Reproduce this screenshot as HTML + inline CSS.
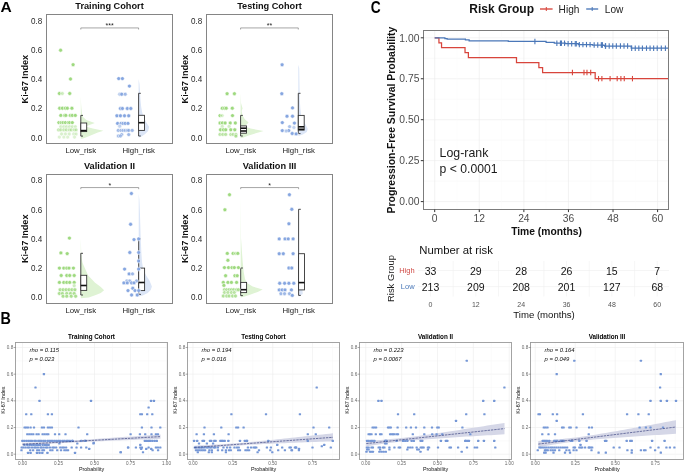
<!DOCTYPE html>
<html><head><meta charset="utf-8"><style>html,body{margin:0;padding:0;background:#fff;}svg{display:block;font-family:"Liberation Sans", sans-serif;will-change:transform;filter:blur(0.3px);}</style></head><body>
<svg width="685" height="474" viewBox="0 0 685 474">
<rect width="685" height="474" fill="#fff"/>
<text x="0" y="0" font-size="14.7" font-weight="bold" fill="#000" transform="translate(0.4 11.8) scale(1.06 1)">A</text>
<text x="0" y="0" font-size="16" font-weight="bold" fill="#000" transform="translate(0.6 323.8) scale(0.9 1)">B</text>
<text x="109.50" y="8.70" font-size="9.2" text-anchor="middle" fill="#111" font-weight="bold">Training Cohort</text>
<text x="0" y="0" font-size="9" text-anchor="end" fill="#2a2a2a" transform="translate(42.30 140.75) scale(0.9 1)">0.0</text>
<text x="0" y="0" font-size="9" text-anchor="end" fill="#2a2a2a" transform="translate(42.30 111.49) scale(0.9 1)">0.2</text>
<text x="0" y="0" font-size="9" text-anchor="end" fill="#2a2a2a" transform="translate(42.30 82.23) scale(0.9 1)">0.4</text>
<text x="0" y="0" font-size="9" text-anchor="end" fill="#2a2a2a" transform="translate(42.30 52.97) scale(0.9 1)">0.6</text>
<text x="0" y="0" font-size="9" text-anchor="end" fill="#2a2a2a" transform="translate(42.30 23.71) scale(0.9 1)">0.8</text>
<text x="28.30" y="79.13" font-size="9.1" text-anchor="middle" fill="#111" font-weight="bold" transform="rotate(-90 28.3 79.13)">Ki-67 Index</text>
<text x="80.80" y="152.50" font-size="7.8" text-anchor="middle" fill="#1a1a1a">Low_risk</text>
<text x="138.70" y="152.50" font-size="7.8" text-anchor="middle" fill="#1a1a1a">High_risk</text>
<path d="M80.80,96.00 L80.80,96.00 L81.10,104.00 L81.40,108.00 L82.00,114.00 L83.00,117.00 L86.30,120.00 L94.80,123.00 L90.80,124.50 L85.30,126.50 L92.80,128.50 L103.50,130.70 L97.80,132.50 L91.80,135.00 L85.80,137.50 L82.80,138.50 L80.80,138.80 L80.80,138.80 Z" fill="#dff3d4" stroke="none"/>
<path d="M138.60,79.00 L138.60,79.00 L139.50,84.00 L140.00,92.00 L140.50,100.00 L141.20,107.00 L142.10,112.00 L143.60,117.00 L146.10,122.00 L149.20,127.00 L148.10,131.00 L145.10,134.00 L141.60,136.50 L138.60,137.50 L138.60,137.50 Z" fill="#dce6f7" stroke="none"/>
<line x1="80.80" y1="115.40" x2="80.80" y2="136.10" stroke="#333" stroke-width="0.9"/>
<line x1="80.80" y1="115.40" x2="83.00" y2="115.40" stroke="#333" stroke-width="0.9"/>
<line x1="80.80" y1="136.10" x2="83.00" y2="136.10" stroke="#333" stroke-width="0.9"/>
<rect x="80.80" y="123.00" width="5.90" height="8.60" fill="#fff" stroke="#333" stroke-width="0.9"/>
<line x1="80.80" y1="130.60" x2="86.70" y2="130.60" stroke="#111" stroke-width="1.6"/>
<line x1="138.60" y1="93.30" x2="138.60" y2="136.00" stroke="#333" stroke-width="0.9"/>
<line x1="138.60" y1="93.30" x2="140.80" y2="93.30" stroke="#333" stroke-width="0.9"/>
<line x1="138.60" y1="136.00" x2="140.80" y2="136.00" stroke="#333" stroke-width="0.9"/>
<rect x="138.60" y="115.30" width="5.90" height="15.10" fill="#fff" stroke="#333" stroke-width="0.9"/>
<line x1="138.60" y1="122.70" x2="144.50" y2="122.70" stroke="#111" stroke-width="1.6"/>
<circle cx="60.60" cy="50.20" r="1.95" fill="#9ed97f" stroke="#fff" stroke-width="0.55"/>
<circle cx="73.10" cy="64.70" r="1.95" fill="#9ed97f" stroke="#fff" stroke-width="0.55"/>
<circle cx="70.50" cy="79.00" r="1.95" fill="#9ed97f" stroke="#fff" stroke-width="0.55"/>
<circle cx="59.40" cy="93.50" r="1.95" fill="#9ed97f" stroke="#fff" stroke-width="0.55"/>
<circle cx="62.30" cy="93.50" r="1.95" fill="#9ed97f" fill-opacity="0.5" stroke="#fff" stroke-width="0.55"/>
<circle cx="69.70" cy="93.50" r="1.95" fill="#9ed97f" stroke="#fff" stroke-width="0.55"/>
<circle cx="59.70" cy="108.20" r="1.95" fill="#9ed97f" stroke="#fff" stroke-width="0.55"/>
<circle cx="62.40" cy="108.20" r="1.95" fill="#9ed97f" stroke="#fff" stroke-width="0.55"/>
<circle cx="65.40" cy="108.20" r="1.95" fill="#9ed97f" stroke="#fff" stroke-width="0.55"/>
<circle cx="67.30" cy="108.20" r="1.95" fill="#9ed97f" stroke="#fff" stroke-width="0.55"/>
<circle cx="71.90" cy="108.20" r="1.95" fill="#9ed97f" stroke="#fff" stroke-width="0.55"/>
<circle cx="60.80" cy="115.40" r="1.95" fill="#9ed97f" stroke="#fff" stroke-width="0.55"/>
<circle cx="64.60" cy="115.40" r="1.95" fill="#9ed97f" stroke="#fff" stroke-width="0.55"/>
<circle cx="65.80" cy="115.40" r="1.95" fill="#9ed97f" stroke="#fff" stroke-width="0.55"/>
<circle cx="70.30" cy="115.40" r="1.95" fill="#9ed97f" stroke="#fff" stroke-width="0.55"/>
<circle cx="72.30" cy="115.40" r="1.95" fill="#9ed97f" stroke="#fff" stroke-width="0.55"/>
<circle cx="75.30" cy="115.40" r="1.95" fill="#9ed97f" stroke="#fff" stroke-width="0.55"/>
<circle cx="58.90" cy="122.60" r="1.95" fill="#9ed97f" stroke="#fff" stroke-width="0.55"/>
<circle cx="61.20" cy="122.60" r="1.95" fill="#9ed97f" stroke="#fff" stroke-width="0.55"/>
<circle cx="63.10" cy="122.60" r="1.95" fill="#9ed97f" stroke="#fff" stroke-width="0.55"/>
<circle cx="65.40" cy="122.60" r="1.95" fill="#9ed97f" stroke="#fff" stroke-width="0.55"/>
<circle cx="68.10" cy="122.60" r="1.95" fill="#9ed97f" stroke="#fff" stroke-width="0.55"/>
<circle cx="69.60" cy="122.60" r="1.95" fill="#9ed97f" stroke="#fff" stroke-width="0.55"/>
<circle cx="72.30" cy="122.60" r="1.95" fill="#9ed97f" stroke="#fff" stroke-width="0.55"/>
<circle cx="60.84" cy="126.80" r="1.95" fill="#9ed97f" fill-opacity="0.45" stroke="#fff" stroke-width="0.55"/>
<circle cx="63.89" cy="126.80" r="1.95" fill="#9ed97f" fill-opacity="0.45" stroke="#fff" stroke-width="0.55"/>
<circle cx="66.55" cy="126.80" r="1.95" fill="#9ed97f" fill-opacity="0.45" stroke="#fff" stroke-width="0.55"/>
<circle cx="69.59" cy="126.80" r="1.95" fill="#9ed97f" fill-opacity="0.45" stroke="#fff" stroke-width="0.55"/>
<circle cx="72.25" cy="126.80" r="1.95" fill="#9ed97f" fill-opacity="0.45" stroke="#fff" stroke-width="0.55"/>
<circle cx="75.29" cy="126.80" r="1.95" fill="#9ed97f" fill-opacity="0.45" stroke="#fff" stroke-width="0.55"/>
<circle cx="58.56" cy="129.90" r="1.95" fill="#9ed97f" fill-opacity="0.6" stroke="#fff" stroke-width="0.55"/>
<circle cx="60.84" cy="129.90" r="1.95" fill="#9ed97f" fill-opacity="0.6" stroke="#fff" stroke-width="0.55"/>
<circle cx="63.89" cy="129.90" r="1.95" fill="#9ed97f" fill-opacity="0.6" stroke="#fff" stroke-width="0.55"/>
<circle cx="66.17" cy="129.90" r="1.95" fill="#9ed97f" fill-opacity="0.6" stroke="#fff" stroke-width="0.55"/>
<circle cx="69.21" cy="129.90" r="1.95" fill="#9ed97f" fill-opacity="0.6" stroke="#fff" stroke-width="0.55"/>
<circle cx="71.11" cy="129.90" r="1.95" fill="#9ed97f" fill-opacity="0.6" stroke="#fff" stroke-width="0.55"/>
<circle cx="74.15" cy="129.90" r="1.95" fill="#9ed97f" fill-opacity="0.6" stroke="#fff" stroke-width="0.55"/>
<circle cx="76.05" cy="129.90" r="1.95" fill="#9ed97f" fill-opacity="0.6" stroke="#fff" stroke-width="0.55"/>
<circle cx="61.60" cy="134.00" r="1.95" fill="#9ed97f" fill-opacity="0.4" stroke="#fff" stroke-width="0.55"/>
<circle cx="65.41" cy="134.00" r="1.95" fill="#9ed97f" fill-opacity="0.4" stroke="#fff" stroke-width="0.55"/>
<circle cx="69.21" cy="134.00" r="1.95" fill="#9ed97f" fill-opacity="0.4" stroke="#fff" stroke-width="0.55"/>
<circle cx="73.77" cy="134.00" r="1.95" fill="#9ed97f" fill-opacity="0.4" stroke="#fff" stroke-width="0.55"/>
<circle cx="76.05" cy="134.00" r="1.95" fill="#9ed97f" fill-opacity="0.4" stroke="#fff" stroke-width="0.55"/>
<circle cx="59.32" cy="137.10" r="1.95" fill="#9ed97f" fill-opacity="0.35" stroke="#fff" stroke-width="0.55"/>
<circle cx="63.89" cy="137.10" r="1.95" fill="#9ed97f" fill-opacity="0.35" stroke="#fff" stroke-width="0.55"/>
<circle cx="67.69" cy="137.10" r="1.95" fill="#9ed97f" fill-opacity="0.35" stroke="#fff" stroke-width="0.55"/>
<circle cx="74.53" cy="137.10" r="1.95" fill="#9ed97f" fill-opacity="0.35" stroke="#fff" stroke-width="0.55"/>
<circle cx="118.70" cy="78.60" r="1.95" fill="#86a6e0" stroke="#fff" stroke-width="0.55"/>
<circle cx="122.40" cy="78.60" r="1.95" fill="#86a6e0" stroke="#fff" stroke-width="0.55"/>
<circle cx="129.40" cy="86.10" r="1.95" fill="#86a6e0" stroke="#fff" stroke-width="0.55"/>
<circle cx="119.70" cy="94.20" r="1.95" fill="#86a6e0" fill-opacity="0.6" stroke="#fff" stroke-width="0.55"/>
<circle cx="121.70" cy="94.20" r="1.95" fill="#86a6e0" stroke="#fff" stroke-width="0.55"/>
<circle cx="125.20" cy="94.20" r="1.95" fill="#86a6e0" fill-opacity="0.8" stroke="#fff" stroke-width="0.55"/>
<circle cx="120.40" cy="108.50" r="1.95" fill="#86a6e0" stroke="#fff" stroke-width="0.55"/>
<circle cx="122.40" cy="108.50" r="1.95" fill="#86a6e0" stroke="#fff" stroke-width="0.55"/>
<circle cx="127.30" cy="108.50" r="1.95" fill="#86a6e0" stroke="#fff" stroke-width="0.55"/>
<circle cx="130.80" cy="108.50" r="1.95" fill="#86a6e0" stroke="#fff" stroke-width="0.55"/>
<circle cx="116.90" cy="115.80" r="1.95" fill="#86a6e0" stroke="#fff" stroke-width="0.55"/>
<circle cx="120.40" cy="115.80" r="1.95" fill="#86a6e0" stroke="#fff" stroke-width="0.55"/>
<circle cx="124.50" cy="115.80" r="1.95" fill="#86a6e0" stroke="#fff" stroke-width="0.55"/>
<circle cx="128.70" cy="115.80" r="1.95" fill="#86a6e0" stroke="#fff" stroke-width="0.55"/>
<circle cx="117.60" cy="123.40" r="1.95" fill="#86a6e0" stroke="#fff" stroke-width="0.55"/>
<circle cx="121.10" cy="123.40" r="1.95" fill="#86a6e0" stroke="#fff" stroke-width="0.55"/>
<circle cx="123.10" cy="123.40" r="1.95" fill="#86a6e0" stroke="#fff" stroke-width="0.55"/>
<circle cx="125.20" cy="123.40" r="1.95" fill="#86a6e0" stroke="#fff" stroke-width="0.55"/>
<circle cx="128.00" cy="123.40" r="1.95" fill="#86a6e0" stroke="#fff" stroke-width="0.55"/>
<circle cx="119.70" cy="126.20" r="1.95" fill="#86a6e0" fill-opacity="0.5" stroke="#fff" stroke-width="0.55"/>
<circle cx="118.30" cy="130.40" r="1.95" fill="#86a6e0" fill-opacity="0.8" stroke="#fff" stroke-width="0.55"/>
<circle cx="121.00" cy="130.40" r="1.95" fill="#86a6e0" fill-opacity="0.8" stroke="#fff" stroke-width="0.55"/>
<circle cx="123.10" cy="130.40" r="1.95" fill="#86a6e0" fill-opacity="0.8" stroke="#fff" stroke-width="0.55"/>
<circle cx="125.20" cy="130.40" r="1.95" fill="#86a6e0" fill-opacity="0.8" stroke="#fff" stroke-width="0.55"/>
<circle cx="127.30" cy="130.40" r="1.95" fill="#86a6e0" fill-opacity="0.8" stroke="#fff" stroke-width="0.55"/>
<circle cx="128.70" cy="130.40" r="1.95" fill="#86a6e0" fill-opacity="0.8" stroke="#fff" stroke-width="0.55"/>
<circle cx="132.20" cy="130.40" r="1.95" fill="#86a6e0" fill-opacity="0.8" stroke="#fff" stroke-width="0.55"/>
<circle cx="121.70" cy="134.60" r="1.95" fill="#86a6e0" fill-opacity="0.8" stroke="#fff" stroke-width="0.55"/>
<circle cx="128.70" cy="134.60" r="1.95" fill="#86a6e0" fill-opacity="0.8" stroke="#fff" stroke-width="0.55"/>
<circle cx="118.30" cy="136.00" r="1.95" fill="#86a6e0" fill-opacity="0.7" stroke="#fff" stroke-width="0.55"/>
<circle cx="120.40" cy="136.00" r="1.95" fill="#86a6e0" fill-opacity="0.7" stroke="#fff" stroke-width="0.55"/>
<path d="M80.80,29.53 L80.80,27.93 L138.60,27.93 L138.60,29.53" fill="none" stroke="#6a6a6a" stroke-width="0.6"/>
<text x="109.70" y="28.43" font-size="7" text-anchor="middle" fill="#222">***</text>
<rect x="46.50" y="14.50" width="126.00" height="129.00" fill="none" stroke="#858585" stroke-width="1"/>
<text x="269.50" y="8.70" font-size="9.2" text-anchor="middle" fill="#111" font-weight="bold">Testing Cohort</text>
<text x="0" y="0" font-size="9" text-anchor="end" fill="#2a2a2a" transform="translate(202.30 140.75) scale(0.9 1)">0.0</text>
<text x="0" y="0" font-size="9" text-anchor="end" fill="#2a2a2a" transform="translate(202.30 111.49) scale(0.9 1)">0.2</text>
<text x="0" y="0" font-size="9" text-anchor="end" fill="#2a2a2a" transform="translate(202.30 82.23) scale(0.9 1)">0.4</text>
<text x="0" y="0" font-size="9" text-anchor="end" fill="#2a2a2a" transform="translate(202.30 52.97) scale(0.9 1)">0.6</text>
<text x="0" y="0" font-size="9" text-anchor="end" fill="#2a2a2a" transform="translate(202.30 23.71) scale(0.9 1)">0.8</text>
<text x="188.30" y="79.13" font-size="9.1" text-anchor="middle" fill="#111" font-weight="bold" transform="rotate(-90 188.3 79.13)">Ki-67 Index</text>
<text x="240.80" y="152.50" font-size="7.8" text-anchor="middle" fill="#1a1a1a">Low_risk</text>
<text x="298.70" y="152.50" font-size="7.8" text-anchor="middle" fill="#1a1a1a">High_risk</text>
<path d="M240.60,93.00 L240.60,93.00 L241.00,103.00 L242.00,106.50 L242.60,108.50 L241.60,111.00 L242.40,115.00 L244.60,119.00 L248.60,122.50 L246.60,124.50 L244.60,126.50 L250.60,128.50 L263.60,131.00 L256.60,133.00 L248.60,135.50 L243.60,137.50 L240.60,138.20 L240.60,138.20 Z" fill="#dff3d4" stroke="none"/>
<path d="M298.30,64.80 L298.30,64.80 L299.20,68.00 L299.50,85.00 L299.80,100.00 L300.30,108.00 L301.20,116.00 L303.30,121.00 L305.80,125.00 L307.80,129.00 L306.80,132.00 L302.80,134.50 L298.30,136.00 L298.30,136.00 Z" fill="#dce6f7" stroke="none"/>
<line x1="240.60" y1="115.40" x2="240.60" y2="136.00" stroke="#333" stroke-width="0.9"/>
<line x1="240.60" y1="115.40" x2="242.80" y2="115.40" stroke="#333" stroke-width="0.9"/>
<line x1="240.60" y1="136.00" x2="242.80" y2="136.00" stroke="#333" stroke-width="0.9"/>
<rect x="240.60" y="125.90" width="5.90" height="7.30" fill="#fff" stroke="#333" stroke-width="0.9"/>
<line x1="240.60" y1="128.20" x2="246.50" y2="128.20" stroke="#111" stroke-width="1.6"/>
<line x1="240.60" y1="131.00" x2="246.50" y2="131.00" stroke="#111" stroke-width="1.6"/>
<line x1="298.30" y1="93.30" x2="298.30" y2="133.60" stroke="#333" stroke-width="0.9"/>
<line x1="298.30" y1="93.30" x2="300.50" y2="93.30" stroke="#333" stroke-width="0.9"/>
<line x1="298.30" y1="133.60" x2="300.50" y2="133.60" stroke="#333" stroke-width="0.9"/>
<rect x="298.30" y="115.40" width="5.90" height="14.70" fill="#fff" stroke="#333" stroke-width="0.9"/>
<line x1="298.30" y1="126.80" x2="304.20" y2="126.80" stroke="#111" stroke-width="1.6"/>
<line x1="298.30" y1="129.30" x2="304.20" y2="129.30" stroke="#111" stroke-width="1.6"/>
<circle cx="227.10" cy="93.70" r="1.95" fill="#9ed97f" stroke="#fff" stroke-width="0.55"/>
<circle cx="234.40" cy="93.70" r="1.95" fill="#9ed97f" stroke="#fff" stroke-width="0.55"/>
<circle cx="222.30" cy="108.20" r="1.95" fill="#9ed97f" stroke="#fff" stroke-width="0.55"/>
<circle cx="224.50" cy="108.20" r="1.95" fill="#9ed97f" stroke="#fff" stroke-width="0.55"/>
<circle cx="226.20" cy="108.20" r="1.95" fill="#9ed97f" stroke="#fff" stroke-width="0.55"/>
<circle cx="232.30" cy="108.20" r="1.95" fill="#9ed97f" stroke="#fff" stroke-width="0.55"/>
<circle cx="220.00" cy="115.60" r="1.95" fill="#9ed97f" stroke="#fff" stroke-width="0.55"/>
<circle cx="232.50" cy="115.60" r="1.95" fill="#9ed97f" stroke="#fff" stroke-width="0.55"/>
<circle cx="222.20" cy="115.60" r="1.95" fill="#9ed97f" fill-opacity="0.4" stroke="#fff" stroke-width="0.55"/>
<circle cx="220.00" cy="123.00" r="1.95" fill="#9ed97f" stroke="#fff" stroke-width="0.55"/>
<circle cx="222.30" cy="123.00" r="1.95" fill="#9ed97f" stroke="#fff" stroke-width="0.55"/>
<circle cx="225.10" cy="123.00" r="1.95" fill="#9ed97f" stroke="#fff" stroke-width="0.55"/>
<circle cx="230.20" cy="123.00" r="1.95" fill="#9ed97f" stroke="#fff" stroke-width="0.55"/>
<circle cx="235.30" cy="123.00" r="1.95" fill="#9ed97f" stroke="#fff" stroke-width="0.55"/>
<circle cx="222.25" cy="126.40" r="1.95" fill="#9ed97f" fill-opacity="0.45" stroke="#fff" stroke-width="0.55"/>
<circle cx="229.08" cy="126.40" r="1.95" fill="#9ed97f" fill-opacity="0.45" stroke="#fff" stroke-width="0.55"/>
<circle cx="220.50" cy="129.80" r="1.95" fill="#9ed97f" stroke="#fff" stroke-width="0.55"/>
<circle cx="223.40" cy="129.80" r="1.95" fill="#9ed97f" stroke="#fff" stroke-width="0.55"/>
<circle cx="225.70" cy="129.80" r="1.95" fill="#9ed97f" stroke="#fff" stroke-width="0.55"/>
<circle cx="230.80" cy="129.80" r="1.95" fill="#9ed97f" stroke="#fff" stroke-width="0.55"/>
<circle cx="234.80" cy="129.80" r="1.95" fill="#9ed97f" stroke="#fff" stroke-width="0.55"/>
<circle cx="219.97" cy="134.40" r="1.95" fill="#9ed97f" fill-opacity="0.7" stroke="#fff" stroke-width="0.55"/>
<circle cx="222.82" cy="134.40" r="1.95" fill="#9ed97f" fill-opacity="0.7" stroke="#fff" stroke-width="0.55"/>
<circle cx="225.67" cy="134.40" r="1.95" fill="#9ed97f" fill-opacity="0.7" stroke="#fff" stroke-width="0.55"/>
<circle cx="230.79" cy="134.40" r="1.95" fill="#9ed97f" fill-opacity="0.7" stroke="#fff" stroke-width="0.55"/>
<circle cx="233.07" cy="134.40" r="1.95" fill="#9ed97f" fill-opacity="0.7" stroke="#fff" stroke-width="0.55"/>
<circle cx="235.92" cy="134.40" r="1.95" fill="#9ed97f" fill-opacity="0.7" stroke="#fff" stroke-width="0.55"/>
<circle cx="235.90" cy="136.10" r="1.95" fill="#9ed97f" fill-opacity="0.8" stroke="#fff" stroke-width="0.55"/>
<circle cx="282.10" cy="64.80" r="1.95" fill="#86a6e0" stroke="#fff" stroke-width="0.55"/>
<circle cx="281.80" cy="93.70" r="1.95" fill="#86a6e0" stroke="#fff" stroke-width="0.55"/>
<circle cx="292.50" cy="107.90" r="1.95" fill="#86a6e0" stroke="#fff" stroke-width="0.55"/>
<circle cx="287.00" cy="116.20" r="1.95" fill="#86a6e0" stroke="#fff" stroke-width="0.55"/>
<circle cx="292.50" cy="116.20" r="1.95" fill="#86a6e0" stroke="#fff" stroke-width="0.55"/>
<circle cx="282.30" cy="122.60" r="1.95" fill="#86a6e0" stroke="#fff" stroke-width="0.55"/>
<circle cx="294.40" cy="123.10" r="1.95" fill="#86a6e0" stroke="#fff" stroke-width="0.55"/>
<circle cx="289.60" cy="126.60" r="1.95" fill="#86a6e0" fill-opacity="0.7" stroke="#fff" stroke-width="0.55"/>
<circle cx="293.90" cy="127.50" r="1.95" fill="#86a6e0" fill-opacity="0.5" stroke="#fff" stroke-width="0.55"/>
<circle cx="282.30" cy="130.60" r="1.95" fill="#86a6e0" stroke="#fff" stroke-width="0.55"/>
<circle cx="288.70" cy="130.60" r="1.95" fill="#86a6e0" stroke="#fff" stroke-width="0.55"/>
<circle cx="286.10" cy="131.00" r="1.95" fill="#86a6e0" fill-opacity="0.6" stroke="#fff" stroke-width="0.55"/>
<circle cx="292.20" cy="133.50" r="1.95" fill="#86a6e0" stroke="#fff" stroke-width="0.55"/>
<circle cx="296.10" cy="133.90" r="1.95" fill="#86a6e0" stroke="#fff" stroke-width="0.55"/>
<path d="M240.60,29.53 L240.60,27.93 L298.30,27.93 L298.30,29.53" fill="none" stroke="#6a6a6a" stroke-width="0.6"/>
<text x="269.45" y="28.43" font-size="7" text-anchor="middle" fill="#222">**</text>
<rect x="206.50" y="14.50" width="126.00" height="129.00" fill="none" stroke="#858585" stroke-width="1"/>
<text x="109.50" y="168.70" font-size="9.2" text-anchor="middle" fill="#111" font-weight="bold">Validation II</text>
<text x="0" y="0" font-size="9" text-anchor="end" fill="#2a2a2a" transform="translate(42.30 300.40) scale(0.9 1)">0.0</text>
<text x="0" y="0" font-size="9" text-anchor="end" fill="#2a2a2a" transform="translate(42.30 271.14) scale(0.9 1)">0.2</text>
<text x="0" y="0" font-size="9" text-anchor="end" fill="#2a2a2a" transform="translate(42.30 241.88) scale(0.9 1)">0.4</text>
<text x="0" y="0" font-size="9" text-anchor="end" fill="#2a2a2a" transform="translate(42.30 212.62) scale(0.9 1)">0.6</text>
<text x="0" y="0" font-size="9" text-anchor="end" fill="#2a2a2a" transform="translate(42.30 183.36) scale(0.9 1)">0.8</text>
<text x="28.30" y="238.78" font-size="9.1" text-anchor="middle" fill="#111" font-weight="bold" transform="rotate(-90 28.3 238.77999999999997)">Ki-67 Index</text>
<text x="80.80" y="312.50" font-size="7.8" text-anchor="middle" fill="#1a1a1a">Low_risk</text>
<text x="138.70" y="312.50" font-size="7.8" text-anchor="middle" fill="#1a1a1a">High_risk</text>
<path d="M80.80,238.00 L80.80,238.00 L81.20,252.00 L81.80,259.00 L82.60,263.00 L84.80,268.00 L88.20,275.50 L94.80,282.40 L100.80,287.00 L104.10,290.30 L100.80,293.00 L95.80,295.00 L88.80,297.60 L80.80,298.30 L80.80,298.30 Z" fill="#dff3d4" stroke="none"/>
<path d="M138.70,193.50 L138.70,193.50 L139.40,200.00 L139.90,212.00 L140.30,225.00 L140.70,239.00 L141.40,253.00 L142.00,262.00 L143.30,270.00 L146.50,276.00 L149.70,281.00 L151.90,286.50 L150.70,290.00 L147.70,293.00 L142.70,295.50 L138.70,296.50 L138.70,296.50 Z" fill="#dce6f7" stroke="none"/>
<line x1="80.80" y1="253.30" x2="80.80" y2="295.00" stroke="#333" stroke-width="0.9"/>
<line x1="80.80" y1="253.30" x2="83.00" y2="253.30" stroke="#333" stroke-width="0.9"/>
<line x1="80.80" y1="295.00" x2="83.00" y2="295.00" stroke="#333" stroke-width="0.9"/>
<rect x="80.80" y="275.30" width="5.90" height="15.10" fill="#fff" stroke="#333" stroke-width="0.9"/>
<line x1="80.80" y1="285.50" x2="86.70" y2="285.50" stroke="#111" stroke-width="1.6"/>
<line x1="138.70" y1="238.90" x2="138.70" y2="294.40" stroke="#333" stroke-width="0.9"/>
<line x1="138.70" y1="238.90" x2="140.90" y2="238.90" stroke="#333" stroke-width="0.9"/>
<line x1="138.70" y1="294.40" x2="140.90" y2="294.40" stroke="#333" stroke-width="0.9"/>
<rect x="138.70" y="268.10" width="5.90" height="22.50" fill="#fff" stroke="#333" stroke-width="0.9"/>
<line x1="138.70" y1="282.50" x2="144.60" y2="282.50" stroke="#111" stroke-width="1.6"/>
<circle cx="69.40" cy="238.10" r="1.95" fill="#9ed97f" stroke="#fff" stroke-width="0.55"/>
<circle cx="60.90" cy="252.90" r="1.95" fill="#9ed97f" stroke="#fff" stroke-width="0.55"/>
<circle cx="67.20" cy="253.60" r="1.95" fill="#9ed97f" stroke="#fff" stroke-width="0.55"/>
<circle cx="59.40" cy="268.10" r="1.95" fill="#9ed97f" stroke="#fff" stroke-width="0.55"/>
<circle cx="63.80" cy="268.10" r="1.95" fill="#9ed97f" stroke="#fff" stroke-width="0.55"/>
<circle cx="66.80" cy="268.10" r="1.95" fill="#9ed97f" stroke="#fff" stroke-width="0.55"/>
<circle cx="69.00" cy="268.10" r="1.95" fill="#9ed97f" stroke="#fff" stroke-width="0.55"/>
<circle cx="73.40" cy="268.10" r="1.95" fill="#9ed97f" stroke="#fff" stroke-width="0.55"/>
<circle cx="61.20" cy="275.50" r="1.95" fill="#9ed97f" stroke="#fff" stroke-width="0.55"/>
<circle cx="66.80" cy="275.50" r="1.95" fill="#9ed97f" stroke="#fff" stroke-width="0.55"/>
<circle cx="69.70" cy="275.50" r="1.95" fill="#9ed97f" stroke="#fff" stroke-width="0.55"/>
<circle cx="74.20" cy="275.50" r="1.95" fill="#9ed97f" stroke="#fff" stroke-width="0.55"/>
<circle cx="59.40" cy="282.40" r="1.95" fill="#9ed97f" stroke="#fff" stroke-width="0.55"/>
<circle cx="63.80" cy="282.40" r="1.95" fill="#9ed97f" stroke="#fff" stroke-width="0.55"/>
<circle cx="66.80" cy="282.40" r="1.95" fill="#9ed97f" stroke="#fff" stroke-width="0.55"/>
<circle cx="69.70" cy="282.40" r="1.95" fill="#9ed97f" stroke="#fff" stroke-width="0.55"/>
<circle cx="74.20" cy="282.40" r="1.95" fill="#9ed97f" stroke="#fff" stroke-width="0.55"/>
<circle cx="74.20" cy="285.80" r="1.95" fill="#9ed97f" fill-opacity="0.5" stroke="#fff" stroke-width="0.55"/>
<circle cx="60.12" cy="289.80" r="1.95" fill="#9ed97f" fill-opacity="0.85" stroke="#fff" stroke-width="0.55"/>
<circle cx="63.08" cy="289.80" r="1.95" fill="#9ed97f" fill-opacity="0.85" stroke="#fff" stroke-width="0.55"/>
<circle cx="66.03" cy="289.80" r="1.95" fill="#9ed97f" fill-opacity="0.85" stroke="#fff" stroke-width="0.55"/>
<circle cx="68.99" cy="289.80" r="1.95" fill="#9ed97f" fill-opacity="0.85" stroke="#fff" stroke-width="0.55"/>
<circle cx="71.94" cy="289.80" r="1.95" fill="#9ed97f" fill-opacity="0.85" stroke="#fff" stroke-width="0.55"/>
<circle cx="74.90" cy="289.80" r="1.95" fill="#9ed97f" fill-opacity="0.85" stroke="#fff" stroke-width="0.55"/>
<circle cx="59.39" cy="293.50" r="1.95" fill="#9ed97f" fill-opacity="0.85" stroke="#fff" stroke-width="0.55"/>
<circle cx="62.34" cy="293.50" r="1.95" fill="#9ed97f" fill-opacity="0.85" stroke="#fff" stroke-width="0.55"/>
<circle cx="66.77" cy="293.50" r="1.95" fill="#9ed97f" fill-opacity="0.85" stroke="#fff" stroke-width="0.55"/>
<circle cx="70.46" cy="293.50" r="1.95" fill="#9ed97f" fill-opacity="0.85" stroke="#fff" stroke-width="0.55"/>
<circle cx="74.16" cy="293.50" r="1.95" fill="#9ed97f" fill-opacity="0.85" stroke="#fff" stroke-width="0.55"/>
<circle cx="63.08" cy="296.20" r="1.95" fill="#9ed97f" fill-opacity="0.85" stroke="#fff" stroke-width="0.55"/>
<circle cx="66.77" cy="296.20" r="1.95" fill="#9ed97f" fill-opacity="0.85" stroke="#fff" stroke-width="0.55"/>
<circle cx="71.20" cy="296.20" r="1.95" fill="#9ed97f" fill-opacity="0.85" stroke="#fff" stroke-width="0.55"/>
<circle cx="75.63" cy="296.20" r="1.95" fill="#9ed97f" fill-opacity="0.85" stroke="#fff" stroke-width="0.55"/>
<circle cx="131.40" cy="193.50" r="1.95" fill="#86a6e0" stroke="#fff" stroke-width="0.55"/>
<circle cx="130.60" cy="224.30" r="1.95" fill="#86a6e0" stroke="#fff" stroke-width="0.55"/>
<circle cx="134.00" cy="239.60" r="1.95" fill="#86a6e0" stroke="#fff" stroke-width="0.55"/>
<circle cx="138.70" cy="238.90" r="1.95" fill="#86a6e0" stroke="#fff" stroke-width="0.55"/>
<circle cx="129.80" cy="252.50" r="1.95" fill="#86a6e0" stroke="#fff" stroke-width="0.55"/>
<circle cx="138.70" cy="252.50" r="1.95" fill="#86a6e0" stroke="#fff" stroke-width="0.55"/>
<circle cx="138.70" cy="261.00" r="1.95" fill="#86a6e0" stroke="#fff" stroke-width="0.55"/>
<circle cx="124.60" cy="269.10" r="1.95" fill="#86a6e0" stroke="#fff" stroke-width="0.55"/>
<circle cx="138.70" cy="269.10" r="1.95" fill="#86a6e0" stroke="#fff" stroke-width="0.55"/>
<circle cx="129.10" cy="273.90" r="1.95" fill="#86a6e0" stroke="#fff" stroke-width="0.55"/>
<circle cx="132.50" cy="273.90" r="1.95" fill="#86a6e0" fill-opacity="0.8" stroke="#fff" stroke-width="0.55"/>
<circle cx="126.90" cy="281.00" r="1.95" fill="#86a6e0" fill-opacity="0.8" stroke="#fff" stroke-width="0.55"/>
<circle cx="129.80" cy="281.00" r="1.95" fill="#86a6e0" fill-opacity="0.8" stroke="#fff" stroke-width="0.55"/>
<circle cx="136.50" cy="281.00" r="1.95" fill="#86a6e0" fill-opacity="0.8" stroke="#fff" stroke-width="0.55"/>
<circle cx="123.90" cy="282.90" r="1.95" fill="#86a6e0" stroke="#fff" stroke-width="0.55"/>
<circle cx="127.20" cy="282.90" r="1.95" fill="#86a6e0" stroke="#fff" stroke-width="0.55"/>
<circle cx="131.60" cy="282.90" r="1.95" fill="#86a6e0" stroke="#fff" stroke-width="0.55"/>
<circle cx="134.00" cy="282.90" r="1.95" fill="#86a6e0" stroke="#fff" stroke-width="0.55"/>
<circle cx="132.80" cy="288.30" r="1.95" fill="#86a6e0" stroke="#fff" stroke-width="0.55"/>
<circle cx="128.00" cy="290.60" r="1.95" fill="#86a6e0" stroke="#fff" stroke-width="0.55"/>
<circle cx="135.00" cy="290.60" r="1.95" fill="#86a6e0" stroke="#fff" stroke-width="0.55"/>
<circle cx="138.70" cy="290.60" r="1.95" fill="#86a6e0" stroke="#fff" stroke-width="0.55"/>
<circle cx="131.60" cy="295.00" r="1.95" fill="#86a6e0" stroke="#fff" stroke-width="0.55"/>
<circle cx="137.20" cy="295.00" r="1.95" fill="#86a6e0" stroke="#fff" stroke-width="0.55"/>
<path d="M80.80,189.17 L80.80,187.57 L138.70,187.57 L138.70,189.17" fill="none" stroke="#6a6a6a" stroke-width="0.6"/>
<text x="109.75" y="188.07" font-size="7" text-anchor="middle" fill="#222">*</text>
<rect x="46.50" y="174.50" width="126.00" height="129.00" fill="none" stroke="#858585" stroke-width="1"/>
<text x="269.50" y="168.70" font-size="9.2" text-anchor="middle" fill="#111" font-weight="bold">Validation III</text>
<text x="0" y="0" font-size="9" text-anchor="end" fill="#2a2a2a" transform="translate(202.30 300.40) scale(0.9 1)">0.0</text>
<text x="0" y="0" font-size="9" text-anchor="end" fill="#2a2a2a" transform="translate(202.30 271.14) scale(0.9 1)">0.2</text>
<text x="0" y="0" font-size="9" text-anchor="end" fill="#2a2a2a" transform="translate(202.30 241.88) scale(0.9 1)">0.4</text>
<text x="0" y="0" font-size="9" text-anchor="end" fill="#2a2a2a" transform="translate(202.30 212.62) scale(0.9 1)">0.6</text>
<text x="0" y="0" font-size="9" text-anchor="end" fill="#2a2a2a" transform="translate(202.30 183.36) scale(0.9 1)">0.8</text>
<text x="188.30" y="238.78" font-size="9.1" text-anchor="middle" fill="#111" font-weight="bold" transform="rotate(-90 188.3 238.77999999999997)">Ki-67 Index</text>
<text x="240.80" y="312.50" font-size="7.8" text-anchor="middle" fill="#1a1a1a">Low_risk</text>
<text x="298.70" y="312.50" font-size="7.8" text-anchor="middle" fill="#1a1a1a">High_risk</text>
<path d="M240.70,194.70 L240.70,194.70 L241.00,238.00 L241.80,250.00 L242.70,262.00 L243.70,272.00 L245.00,279.00 L247.00,283.00 L252.70,286.50 L262.70,289.50 L257.70,292.00 L250.70,294.50 L244.70,296.50 L240.70,297.50 L240.70,297.50 Z" fill="#dff3d4" stroke="none"/>
<path d="M298.60,194.70 L298.60,194.70 L298.90,240.00 L299.40,268.00 L300.60,283.00 L302.40,290.00 L302.80,294.00 L298.60,296.50 L298.60,296.50 Z" fill="#dce6f7" stroke="none"/>
<line x1="240.70" y1="268.00" x2="240.70" y2="295.60" stroke="#333" stroke-width="0.9"/>
<line x1="240.70" y1="268.00" x2="242.90" y2="268.00" stroke="#333" stroke-width="0.9"/>
<line x1="240.70" y1="295.60" x2="242.90" y2="295.60" stroke="#333" stroke-width="0.9"/>
<rect x="240.70" y="282.40" width="5.90" height="10.20" fill="#fff" stroke="#333" stroke-width="0.9"/>
<line x1="240.70" y1="289.70" x2="246.60" y2="289.70" stroke="#111" stroke-width="1.6"/>
<line x1="298.60" y1="209.30" x2="298.60" y2="295.40" stroke="#333" stroke-width="0.9"/>
<line x1="298.60" y1="209.30" x2="300.80" y2="209.30" stroke="#333" stroke-width="0.9"/>
<line x1="298.60" y1="295.40" x2="300.80" y2="295.40" stroke="#333" stroke-width="0.9"/>
<rect x="298.60" y="253.70" width="5.90" height="36.20" fill="#fff" stroke="#333" stroke-width="0.9"/>
<line x1="298.60" y1="282.60" x2="304.50" y2="282.60" stroke="#111" stroke-width="1.6"/>
<circle cx="229.50" cy="194.70" r="1.95" fill="#9ed97f" stroke="#fff" stroke-width="0.55"/>
<circle cx="224.90" cy="209.80" r="1.95" fill="#9ed97f" stroke="#fff" stroke-width="0.55"/>
<circle cx="227.30" cy="253.40" r="1.95" fill="#9ed97f" stroke="#fff" stroke-width="0.55"/>
<circle cx="233.10" cy="253.40" r="1.95" fill="#9ed97f" stroke="#fff" stroke-width="0.55"/>
<circle cx="235.50" cy="253.40" r="1.95" fill="#9ed97f" fill-opacity="0.6" stroke="#fff" stroke-width="0.55"/>
<circle cx="237.80" cy="253.40" r="1.95" fill="#9ed97f" stroke="#fff" stroke-width="0.55"/>
<circle cx="227.90" cy="260.30" r="1.95" fill="#9ed97f" stroke="#fff" stroke-width="0.55"/>
<circle cx="224.40" cy="267.60" r="1.95" fill="#9ed97f" stroke="#fff" stroke-width="0.55"/>
<circle cx="228.50" cy="267.60" r="1.95" fill="#9ed97f" stroke="#fff" stroke-width="0.55"/>
<circle cx="232.00" cy="267.60" r="1.95" fill="#9ed97f" stroke="#fff" stroke-width="0.55"/>
<circle cx="234.30" cy="267.60" r="1.95" fill="#9ed97f" stroke="#fff" stroke-width="0.55"/>
<circle cx="238.40" cy="267.60" r="1.95" fill="#9ed97f" stroke="#fff" stroke-width="0.55"/>
<circle cx="225.60" cy="275.70" r="1.95" fill="#9ed97f" stroke="#fff" stroke-width="0.55"/>
<circle cx="234.90" cy="275.70" r="1.95" fill="#9ed97f" stroke="#fff" stroke-width="0.55"/>
<circle cx="237.20" cy="275.70" r="1.95" fill="#9ed97f" stroke="#fff" stroke-width="0.55"/>
<circle cx="223.30" cy="282.40" r="1.95" fill="#9ed97f" stroke="#fff" stroke-width="0.55"/>
<circle cx="227.90" cy="282.40" r="1.95" fill="#9ed97f" stroke="#fff" stroke-width="0.55"/>
<circle cx="231.40" cy="282.40" r="1.95" fill="#9ed97f" stroke="#fff" stroke-width="0.55"/>
<circle cx="236.60" cy="282.40" r="1.95" fill="#9ed97f" stroke="#fff" stroke-width="0.55"/>
<circle cx="223.90" cy="285.40" r="1.95" fill="#9ed97f" stroke="#fff" stroke-width="0.55"/>
<circle cx="224.44" cy="289.70" r="1.95" fill="#9ed97f" fill-opacity="0.8" stroke="#fff" stroke-width="0.55"/>
<circle cx="226.76" cy="289.70" r="1.95" fill="#9ed97f" fill-opacity="0.8" stroke="#fff" stroke-width="0.55"/>
<circle cx="229.08" cy="289.70" r="1.95" fill="#9ed97f" fill-opacity="0.8" stroke="#fff" stroke-width="0.55"/>
<circle cx="231.40" cy="289.70" r="1.95" fill="#9ed97f" fill-opacity="0.8" stroke="#fff" stroke-width="0.55"/>
<circle cx="233.72" cy="289.70" r="1.95" fill="#9ed97f" fill-opacity="0.8" stroke="#fff" stroke-width="0.55"/>
<circle cx="236.62" cy="289.70" r="1.95" fill="#9ed97f" fill-opacity="0.8" stroke="#fff" stroke-width="0.55"/>
<circle cx="238.36" cy="289.70" r="1.95" fill="#9ed97f" fill-opacity="0.8" stroke="#fff" stroke-width="0.55"/>
<circle cx="224.44" cy="292.60" r="1.95" fill="#9ed97f" fill-opacity="0.7" stroke="#fff" stroke-width="0.55"/>
<circle cx="227.92" cy="292.60" r="1.95" fill="#9ed97f" fill-opacity="0.7" stroke="#fff" stroke-width="0.55"/>
<circle cx="231.40" cy="292.60" r="1.95" fill="#9ed97f" fill-opacity="0.7" stroke="#fff" stroke-width="0.55"/>
<circle cx="234.30" cy="292.60" r="1.95" fill="#9ed97f" fill-opacity="0.7" stroke="#fff" stroke-width="0.55"/>
<circle cx="223.28" cy="296.00" r="1.95" fill="#9ed97f" fill-opacity="0.8" stroke="#fff" stroke-width="0.55"/>
<circle cx="226.76" cy="296.00" r="1.95" fill="#9ed97f" fill-opacity="0.8" stroke="#fff" stroke-width="0.55"/>
<circle cx="229.08" cy="296.00" r="1.95" fill="#9ed97f" fill-opacity="0.8" stroke="#fff" stroke-width="0.55"/>
<circle cx="232.56" cy="296.00" r="1.95" fill="#9ed97f" fill-opacity="0.8" stroke="#fff" stroke-width="0.55"/>
<circle cx="235.46" cy="296.00" r="1.95" fill="#9ed97f" fill-opacity="0.8" stroke="#fff" stroke-width="0.55"/>
<circle cx="289.40" cy="194.70" r="1.95" fill="#86a6e0" stroke="#fff" stroke-width="0.55"/>
<circle cx="291.80" cy="209.30" r="1.95" fill="#86a6e0" stroke="#fff" stroke-width="0.55"/>
<circle cx="288.90" cy="223.80" r="1.95" fill="#86a6e0" stroke="#fff" stroke-width="0.55"/>
<circle cx="279.20" cy="238.90" r="1.95" fill="#86a6e0" stroke="#fff" stroke-width="0.55"/>
<circle cx="285.00" cy="238.90" r="1.95" fill="#86a6e0" stroke="#fff" stroke-width="0.55"/>
<circle cx="288.20" cy="238.90" r="1.95" fill="#86a6e0" stroke="#fff" stroke-width="0.55"/>
<circle cx="293.10" cy="238.90" r="1.95" fill="#86a6e0" stroke="#fff" stroke-width="0.55"/>
<circle cx="279.20" cy="253.70" r="1.95" fill="#86a6e0" stroke="#fff" stroke-width="0.55"/>
<circle cx="283.30" cy="253.70" r="1.95" fill="#86a6e0" stroke="#fff" stroke-width="0.55"/>
<circle cx="293.10" cy="253.70" r="1.95" fill="#86a6e0" stroke="#fff" stroke-width="0.55"/>
<circle cx="288.90" cy="268.00" r="1.95" fill="#86a6e0" stroke="#fff" stroke-width="0.55"/>
<circle cx="291.80" cy="268.00" r="1.95" fill="#86a6e0" stroke="#fff" stroke-width="0.55"/>
<circle cx="279.70" cy="283.30" r="1.95" fill="#86a6e0" stroke="#fff" stroke-width="0.55"/>
<circle cx="284.60" cy="283.30" r="1.95" fill="#86a6e0" stroke="#fff" stroke-width="0.55"/>
<circle cx="288.90" cy="283.30" r="1.95" fill="#86a6e0" stroke="#fff" stroke-width="0.55"/>
<circle cx="293.80" cy="283.30" r="1.95" fill="#86a6e0" stroke="#fff" stroke-width="0.55"/>
<circle cx="279.20" cy="289.90" r="1.95" fill="#86a6e0" stroke="#fff" stroke-width="0.55"/>
<circle cx="282.10" cy="289.90" r="1.95" fill="#86a6e0" stroke="#fff" stroke-width="0.55"/>
<circle cx="285.00" cy="289.90" r="1.95" fill="#86a6e0" stroke="#fff" stroke-width="0.55"/>
<circle cx="291.40" cy="289.90" r="1.95" fill="#86a6e0" stroke="#fff" stroke-width="0.55"/>
<circle cx="280.92" cy="293.70" r="1.95" fill="#86a6e0" fill-opacity="0.8" stroke="#fff" stroke-width="0.55"/>
<circle cx="284.56" cy="293.70" r="1.95" fill="#86a6e0" fill-opacity="0.8" stroke="#fff" stroke-width="0.55"/>
<circle cx="289.42" cy="293.70" r="1.95" fill="#86a6e0" fill-opacity="0.8" stroke="#fff" stroke-width="0.55"/>
<circle cx="292.30" cy="295.40" r="1.95" fill="#86a6e0" stroke="#fff" stroke-width="0.55"/>
<path d="M240.70,189.17 L240.70,187.57 L298.60,187.57 L298.60,189.17" fill="none" stroke="#6a6a6a" stroke-width="0.6"/>
<text x="269.65" y="188.07" font-size="7" text-anchor="middle" fill="#222">*</text>
<rect x="206.50" y="174.50" width="126.00" height="129.00" fill="none" stroke="#858585" stroke-width="1"/>
<line x1="15.50" y1="440.86" x2="167.50" y2="440.86" stroke="#f6f6f6" stroke-width="0.5"/>
<line x1="15.50" y1="414.18" x2="167.50" y2="414.18" stroke="#f6f6f6" stroke-width="0.5"/>
<line x1="15.50" y1="387.50" x2="167.50" y2="387.50" stroke="#f6f6f6" stroke-width="0.5"/>
<line x1="15.50" y1="360.82" x2="167.50" y2="360.82" stroke="#f6f6f6" stroke-width="0.5"/>
<line x1="15.50" y1="454.20" x2="167.50" y2="454.20" stroke="#ececec" stroke-width="0.6"/>
<line x1="15.50" y1="427.52" x2="167.50" y2="427.52" stroke="#ececec" stroke-width="0.6"/>
<line x1="15.50" y1="400.84" x2="167.50" y2="400.84" stroke="#ececec" stroke-width="0.6"/>
<line x1="15.50" y1="374.16" x2="167.50" y2="374.16" stroke="#ececec" stroke-width="0.6"/>
<line x1="15.50" y1="347.48" x2="167.50" y2="347.48" stroke="#ececec" stroke-width="0.6"/>
<line x1="22.50" y1="342.50" x2="22.50" y2="459.50" stroke="#ececec" stroke-width="0.6"/>
<line x1="40.50" y1="342.50" x2="40.50" y2="459.50" stroke="#f6f6f6" stroke-width="0.5"/>
<line x1="58.50" y1="342.50" x2="58.50" y2="459.50" stroke="#ececec" stroke-width="0.6"/>
<line x1="76.50" y1="342.50" x2="76.50" y2="459.50" stroke="#f6f6f6" stroke-width="0.5"/>
<line x1="94.50" y1="342.50" x2="94.50" y2="459.50" stroke="#ececec" stroke-width="0.6"/>
<line x1="112.50" y1="342.50" x2="112.50" y2="459.50" stroke="#f6f6f6" stroke-width="0.5"/>
<line x1="130.50" y1="342.50" x2="130.50" y2="459.50" stroke="#ececec" stroke-width="0.6"/>
<line x1="148.50" y1="342.50" x2="148.50" y2="459.50" stroke="#f6f6f6" stroke-width="0.5"/>
<line x1="166.50" y1="342.50" x2="166.50" y2="459.50" stroke="#ececec" stroke-width="0.6"/>
<path d="M22.50,442.80 L25.95,442.69 L29.40,442.58 L32.85,442.47 L36.30,442.34 L39.75,442.21 L43.20,442.07 L46.65,441.91 L50.10,441.75 L53.55,441.57 L57.00,441.37 L60.45,441.18 L63.90,440.98 L67.35,440.77 L70.80,440.56 L74.25,440.35 L77.70,440.13 L81.15,439.92 L84.60,439.69 L88.05,439.47 L91.50,439.24 L94.95,439.01 L98.40,438.78 L101.85,438.55 L105.30,438.31 L108.75,438.07 L112.20,437.84 L115.65,437.60 L119.10,437.36 L122.55,437.11 L126.00,436.87 L129.45,436.63 L132.90,436.38 L136.35,436.14 L139.80,435.89 L143.25,435.64 L146.70,435.39 L150.15,435.15 L153.60,434.90 L157.05,434.65 L160.50,434.40 L160.50,438.80 L157.05,438.94 L153.60,439.07 L150.15,439.21 L146.70,439.35 L143.25,439.48 L139.80,439.62 L136.35,439.76 L132.90,439.90 L129.45,440.04 L126.00,440.18 L122.55,440.32 L119.10,440.46 L115.65,440.61 L112.20,440.75 L108.75,440.90 L105.30,441.05 L101.85,441.20 L98.40,441.35 L94.95,441.50 L91.50,441.66 L88.05,441.82 L84.60,441.98 L81.15,442.14 L77.70,442.31 L74.25,442.47 L70.80,442.65 L67.35,442.82 L63.90,443.00 L60.45,443.19 L57.00,443.38 L53.55,443.57 L50.10,443.77 L46.65,443.99 L43.20,444.22 L39.75,444.47 L36.30,444.72 L32.85,444.98 L29.40,445.25 L25.95,445.52 L22.50,445.80 Z" fill="#d5d7e7" stroke="none"/>
<rect x="42.75" y="373.11" width="2.3" height="2.1" rx="0.5" fill="#7597d6"/>
<rect x="34.35" y="386.45" width="2.3" height="2.1" rx="0.5" fill="#7597d6"/>
<rect x="38.35" y="399.79" width="2.3" height="2.1" rx="0.5" fill="#7597d6"/>
<rect x="89.85" y="399.79" width="2.3" height="2.1" rx="0.5" fill="#7597d6"/>
<rect x="25.05" y="413.13" width="2.3" height="2.1" rx="0.5" fill="#7597d6"/>
<rect x="30.15" y="413.13" width="2.3" height="2.1" rx="0.5" fill="#7597d6"/>
<rect x="46.75" y="413.13" width="2.3" height="2.1" rx="0.5" fill="#7597d6"/>
<rect x="50.75" y="413.13" width="2.3" height="2.1" rx="0.5" fill="#7597d6"/>
<rect x="23.45" y="426.47" width="2.3" height="2.1" rx="0.5" fill="#7597d6"/>
<rect x="25.05" y="426.47" width="2.3" height="2.1" rx="0.5" fill="#7597d6"/>
<rect x="26.85" y="426.47" width="2.3" height="2.1" rx="0.5" fill="#7597d6"/>
<rect x="29.45" y="426.47" width="2.3" height="2.1" rx="0.5" fill="#7597d6"/>
<rect x="32.85" y="426.47" width="2.3" height="2.1" rx="0.5" fill="#7597d6"/>
<rect x="40.75" y="426.47" width="2.3" height="2.1" rx="0.5" fill="#7597d6"/>
<rect x="42.75" y="426.47" width="2.3" height="2.1" rx="0.5" fill="#7597d6"/>
<rect x="46.75" y="426.47" width="2.3" height="2.1" rx="0.5" fill="#7597d6"/>
<rect x="48.75" y="426.47" width="2.3" height="2.1" rx="0.5" fill="#7597d6"/>
<rect x="50.75" y="426.47" width="2.3" height="2.1" rx="0.5" fill="#7597d6"/>
<rect x="77.35" y="426.47" width="2.3" height="2.1" rx="0.5" fill="#7597d6"/>
<rect x="26.15" y="433.14" width="2.3" height="2.1" rx="0.5" fill="#7597d6"/>
<rect x="28.15" y="433.14" width="2.3" height="2.1" rx="0.5" fill="#7597d6"/>
<rect x="30.15" y="433.14" width="2.3" height="2.1" rx="0.5" fill="#7597d6"/>
<rect x="32.15" y="433.14" width="2.3" height="2.1" rx="0.5" fill="#7597d6"/>
<rect x="35.45" y="433.14" width="2.3" height="2.1" rx="0.5" fill="#7597d6"/>
<rect x="37.45" y="433.14" width="2.3" height="2.1" rx="0.5" fill="#7597d6"/>
<rect x="41.45" y="433.14" width="2.3" height="2.1" rx="0.5" fill="#7597d6"/>
<rect x="43.45" y="433.14" width="2.3" height="2.1" rx="0.5" fill="#7597d6"/>
<rect x="45.45" y="433.14" width="2.3" height="2.1" rx="0.5" fill="#7597d6"/>
<rect x="47.15" y="433.14" width="2.3" height="2.1" rx="0.5" fill="#7597d6"/>
<rect x="53.85" y="433.14" width="2.3" height="2.1" rx="0.5" fill="#7597d6"/>
<rect x="58.05" y="433.14" width="2.3" height="2.1" rx="0.5" fill="#7597d6"/>
<rect x="64.35" y="433.14" width="2.3" height="2.1" rx="0.5" fill="#7597d6"/>
<rect x="86.05" y="433.14" width="2.3" height="2.1" rx="0.5" fill="#7597d6"/>
<rect x="21.27" y="439.81" width="2.3" height="2.1" rx="0.5" fill="#7597d6"/>
<rect x="23.11" y="439.81" width="2.3" height="2.1" rx="0.5" fill="#7597d6"/>
<rect x="25.24" y="439.81" width="2.3" height="2.1" rx="0.5" fill="#7597d6"/>
<rect x="27.26" y="439.81" width="2.3" height="2.1" rx="0.5" fill="#7597d6"/>
<rect x="29.10" y="439.81" width="2.3" height="2.1" rx="0.5" fill="#7597d6"/>
<rect x="30.72" y="439.81" width="2.3" height="2.1" rx="0.5" fill="#7597d6"/>
<rect x="33.21" y="439.81" width="2.3" height="2.1" rx="0.5" fill="#7597d6"/>
<rect x="34.63" y="439.81" width="2.3" height="2.1" rx="0.5" fill="#7597d6"/>
<rect x="37.11" y="439.81" width="2.3" height="2.1" rx="0.5" fill="#7597d6"/>
<rect x="38.57" y="439.81" width="2.3" height="2.1" rx="0.5" fill="#7597d6"/>
<rect x="40.19" y="439.81" width="2.3" height="2.1" rx="0.5" fill="#7597d6"/>
<rect x="42.28" y="439.81" width="2.3" height="2.1" rx="0.5" fill="#7597d6"/>
<rect x="44.04" y="439.81" width="2.3" height="2.1" rx="0.5" fill="#7597d6"/>
<rect x="46.50" y="439.81" width="2.3" height="2.1" rx="0.5" fill="#7597d6"/>
<rect x="48.22" y="439.81" width="2.3" height="2.1" rx="0.5" fill="#7597d6"/>
<rect x="49.95" y="439.81" width="2.3" height="2.1" rx="0.5" fill="#7597d6"/>
<rect x="51.60" y="439.81" width="2.3" height="2.1" rx="0.5" fill="#7597d6"/>
<rect x="53.61" y="439.81" width="2.3" height="2.1" rx="0.5" fill="#7597d6"/>
<rect x="55.69" y="439.81" width="2.3" height="2.1" rx="0.5" fill="#7597d6"/>
<rect x="57.72" y="439.81" width="2.3" height="2.1" rx="0.5" fill="#7597d6"/>
<rect x="59.39" y="439.81" width="2.3" height="2.1" rx="0.5" fill="#7597d6"/>
<rect x="61.61" y="439.81" width="2.3" height="2.1" rx="0.5" fill="#7597d6"/>
<rect x="63.41" y="439.81" width="2.3" height="2.1" rx="0.5" fill="#7597d6"/>
<rect x="65.55" y="439.81" width="2.3" height="2.1" rx="0.5" fill="#7597d6"/>
<rect x="66.98" y="439.81" width="2.3" height="2.1" rx="0.5" fill="#7597d6"/>
<rect x="68.74" y="439.81" width="2.3" height="2.1" rx="0.5" fill="#7597d6"/>
<rect x="71.16" y="439.81" width="2.3" height="2.1" rx="0.5" fill="#7597d6"/>
<rect x="80.15" y="439.81" width="2.3" height="2.1" rx="0.5" fill="#7597d6"/>
<rect x="83.65" y="439.81" width="2.3" height="2.1" rx="0.5" fill="#7597d6"/>
<rect x="84.45" y="439.81" width="2.3" height="2.1" rx="0.5" fill="#7597d6"/>
<rect x="71.35" y="439.81" width="2.3" height="2.1" rx="0.5" fill="#7597d6"/>
<rect x="23.29" y="443.81" width="2.3" height="2.1" rx="0.5" fill="#7597d6"/>
<rect x="26.21" y="443.81" width="2.3" height="2.1" rx="0.5" fill="#7597d6"/>
<rect x="28.53" y="443.81" width="2.3" height="2.1" rx="0.5" fill="#7597d6"/>
<rect x="30.55" y="443.81" width="2.3" height="2.1" rx="0.5" fill="#7597d6"/>
<rect x="32.63" y="443.81" width="2.3" height="2.1" rx="0.5" fill="#7597d6"/>
<rect x="35.09" y="443.81" width="2.3" height="2.1" rx="0.5" fill="#7597d6"/>
<rect x="36.92" y="443.81" width="2.3" height="2.1" rx="0.5" fill="#7597d6"/>
<rect x="38.71" y="443.81" width="2.3" height="2.1" rx="0.5" fill="#7597d6"/>
<rect x="41.50" y="443.81" width="2.3" height="2.1" rx="0.5" fill="#7597d6"/>
<rect x="43.87" y="443.81" width="2.3" height="2.1" rx="0.5" fill="#7597d6"/>
<rect x="45.64" y="443.81" width="2.3" height="2.1" rx="0.5" fill="#7597d6"/>
<rect x="47.47" y="443.81" width="2.3" height="2.1" rx="0.5" fill="#7597d6"/>
<rect x="58.25" y="442.48" width="2.3" height="2.1" rx="0.5" fill="#7597d6"/>
<rect x="76.15" y="442.48" width="2.3" height="2.1" rx="0.5" fill="#7597d6"/>
<rect x="92.35" y="442.48" width="2.3" height="2.1" rx="0.5" fill="#7597d6"/>
<rect x="20.52" y="446.48" width="2.3" height="2.1" rx="0.5" fill="#7597d6"/>
<rect x="22.41" y="446.48" width="2.3" height="2.1" rx="0.5" fill="#7597d6"/>
<rect x="24.48" y="446.48" width="2.3" height="2.1" rx="0.5" fill="#7597d6"/>
<rect x="26.74" y="446.48" width="2.3" height="2.1" rx="0.5" fill="#7597d6"/>
<rect x="28.43" y="446.48" width="2.3" height="2.1" rx="0.5" fill="#7597d6"/>
<rect x="30.90" y="446.48" width="2.3" height="2.1" rx="0.5" fill="#7597d6"/>
<rect x="33.17" y="446.48" width="2.3" height="2.1" rx="0.5" fill="#7597d6"/>
<rect x="34.63" y="446.48" width="2.3" height="2.1" rx="0.5" fill="#7597d6"/>
<rect x="36.71" y="446.48" width="2.3" height="2.1" rx="0.5" fill="#7597d6"/>
<rect x="39.31" y="446.48" width="2.3" height="2.1" rx="0.5" fill="#7597d6"/>
<rect x="40.53" y="446.48" width="2.3" height="2.1" rx="0.5" fill="#7597d6"/>
<rect x="42.58" y="446.48" width="2.3" height="2.1" rx="0.5" fill="#7597d6"/>
<rect x="44.94" y="446.48" width="2.3" height="2.1" rx="0.5" fill="#7597d6"/>
<rect x="46.35" y="446.48" width="2.3" height="2.1" rx="0.5" fill="#7597d6"/>
<rect x="48.72" y="446.48" width="2.3" height="2.1" rx="0.5" fill="#7597d6"/>
<rect x="51.30" y="446.48" width="2.3" height="2.1" rx="0.5" fill="#7597d6"/>
<rect x="52.87" y="446.48" width="2.3" height="2.1" rx="0.5" fill="#7597d6"/>
<rect x="55.03" y="446.48" width="2.3" height="2.1" rx="0.5" fill="#7597d6"/>
<rect x="59.13" y="446.48" width="2.3" height="2.1" rx="0.5" fill="#7597d6"/>
<rect x="61.15" y="446.48" width="2.3" height="2.1" rx="0.5" fill="#7597d6"/>
<rect x="62.75" y="446.48" width="2.3" height="2.1" rx="0.5" fill="#7597d6"/>
<rect x="64.98" y="446.48" width="2.3" height="2.1" rx="0.5" fill="#7597d6"/>
<rect x="70.51" y="446.48" width="2.3" height="2.1" rx="0.5" fill="#7597d6"/>
<rect x="75.35" y="446.48" width="2.3" height="2.1" rx="0.5" fill="#7597d6"/>
<rect x="79.95" y="446.48" width="2.3" height="2.1" rx="0.5" fill="#7597d6"/>
<rect x="85.15" y="446.48" width="2.3" height="2.1" rx="0.5" fill="#7597d6"/>
<rect x="88.05" y="447.81" width="2.3" height="2.1" rx="0.5" fill="#7597d6"/>
<rect x="20.31" y="449.15" width="2.3" height="2.1" rx="0.5" fill="#7597d6"/>
<rect x="29.08" y="449.15" width="2.3" height="2.1" rx="0.5" fill="#7597d6"/>
<rect x="31.99" y="449.15" width="2.3" height="2.1" rx="0.5" fill="#7597d6"/>
<rect x="36.07" y="449.15" width="2.3" height="2.1" rx="0.5" fill="#7597d6"/>
<rect x="38.00" y="449.15" width="2.3" height="2.1" rx="0.5" fill="#7597d6"/>
<rect x="41.24" y="449.15" width="2.3" height="2.1" rx="0.5" fill="#7597d6"/>
<rect x="42.83" y="449.15" width="2.3" height="2.1" rx="0.5" fill="#7597d6"/>
<rect x="49.17" y="449.15" width="2.3" height="2.1" rx="0.5" fill="#7597d6"/>
<rect x="51.24" y="449.15" width="2.3" height="2.1" rx="0.5" fill="#7597d6"/>
<rect x="56.08" y="449.15" width="2.3" height="2.1" rx="0.5" fill="#7597d6"/>
<rect x="59.88" y="449.15" width="2.3" height="2.1" rx="0.5" fill="#7597d6"/>
<rect x="63.22" y="449.15" width="2.3" height="2.1" rx="0.5" fill="#7597d6"/>
<rect x="65.09" y="449.15" width="2.3" height="2.1" rx="0.5" fill="#7597d6"/>
<rect x="66.89" y="449.15" width="2.3" height="2.1" rx="0.5" fill="#7597d6"/>
<rect x="26.89" y="451.82" width="2.3" height="2.1" rx="0.5" fill="#7597d6"/>
<rect x="29.45" y="451.82" width="2.3" height="2.1" rx="0.5" fill="#7597d6"/>
<rect x="35.83" y="451.82" width="2.3" height="2.1" rx="0.5" fill="#7597d6"/>
<rect x="38.42" y="451.82" width="2.3" height="2.1" rx="0.5" fill="#7597d6"/>
<rect x="41.14" y="451.82" width="2.3" height="2.1" rx="0.5" fill="#7597d6"/>
<rect x="46.28" y="451.82" width="2.3" height="2.1" rx="0.5" fill="#7597d6"/>
<rect x="73.85" y="451.82" width="2.3" height="2.1" rx="0.5" fill="#7597d6"/>
<rect x="149.85" y="399.79" width="2.3" height="2.1" rx="0.5" fill="#7597d6"/>
<rect x="152.75" y="399.79" width="2.3" height="2.1" rx="0.5" fill="#7597d6"/>
<rect x="147.45" y="406.46" width="2.3" height="2.1" rx="0.5" fill="#7597d6"/>
<rect x="139.15" y="413.13" width="2.3" height="2.1" rx="0.5" fill="#7597d6"/>
<rect x="140.75" y="413.13" width="2.3" height="2.1" rx="0.5" fill="#7597d6"/>
<rect x="146.05" y="413.13" width="2.3" height="2.1" rx="0.5" fill="#7597d6"/>
<rect x="151.15" y="413.13" width="2.3" height="2.1" rx="0.5" fill="#7597d6"/>
<rect x="140.75" y="426.47" width="2.3" height="2.1" rx="0.5" fill="#7597d6"/>
<rect x="150.35" y="426.47" width="2.3" height="2.1" rx="0.5" fill="#7597d6"/>
<rect x="159.15" y="426.47" width="2.3" height="2.1" rx="0.5" fill="#7597d6"/>
<rect x="129.45" y="433.14" width="2.3" height="2.1" rx="0.5" fill="#7597d6"/>
<rect x="138.75" y="433.14" width="2.3" height="2.1" rx="0.5" fill="#7597d6"/>
<rect x="144.05" y="433.14" width="2.3" height="2.1" rx="0.5" fill="#7597d6"/>
<rect x="150.35" y="433.14" width="2.3" height="2.1" rx="0.5" fill="#7597d6"/>
<rect x="154.75" y="433.14" width="2.3" height="2.1" rx="0.5" fill="#7597d6"/>
<rect x="156.75" y="433.14" width="2.3" height="2.1" rx="0.5" fill="#7597d6"/>
<rect x="143.72" y="439.81" width="2.3" height="2.1" rx="0.5" fill="#7597d6"/>
<rect x="145.71" y="439.81" width="2.3" height="2.1" rx="0.5" fill="#7597d6"/>
<rect x="147.72" y="439.81" width="2.3" height="2.1" rx="0.5" fill="#7597d6"/>
<rect x="149.28" y="439.81" width="2.3" height="2.1" rx="0.5" fill="#7597d6"/>
<rect x="151.27" y="439.81" width="2.3" height="2.1" rx="0.5" fill="#7597d6"/>
<rect x="153.52" y="439.81" width="2.3" height="2.1" rx="0.5" fill="#7597d6"/>
<rect x="155.65" y="439.81" width="2.3" height="2.1" rx="0.5" fill="#7597d6"/>
<rect x="139.15" y="443.81" width="2.3" height="2.1" rx="0.5" fill="#7597d6"/>
<rect x="92.60" y="441.81" width="2.3" height="2.1" rx="0.5" fill="#7597d6"/>
<rect x="127.10" y="446.48" width="2.3" height="2.1" rx="0.5" fill="#7597d6"/>
<rect x="119.60" y="451.15" width="2.3" height="2.1" rx="0.5" fill="#7597d6"/>
<rect x="126.85" y="446.48" width="2.3" height="2.1" rx="0.5" fill="#7597d6"/>
<rect x="134.75" y="446.48" width="2.3" height="2.1" rx="0.5" fill="#7597d6"/>
<rect x="139.15" y="446.48" width="2.3" height="2.1" rx="0.5" fill="#7597d6"/>
<rect x="140.75" y="446.48" width="2.3" height="2.1" rx="0.5" fill="#7597d6"/>
<rect x="147.45" y="446.48" width="2.3" height="2.1" rx="0.5" fill="#7597d6"/>
<rect x="154.75" y="446.48" width="2.3" height="2.1" rx="0.5" fill="#7597d6"/>
<rect x="156.75" y="446.48" width="2.3" height="2.1" rx="0.5" fill="#7597d6"/>
<rect x="159.15" y="446.48" width="2.3" height="2.1" rx="0.5" fill="#7597d6"/>
<rect x="140.05" y="447.81" width="2.3" height="2.1" rx="0.5" fill="#7597d6"/>
<rect x="145.05" y="447.81" width="2.3" height="2.1" rx="0.5" fill="#7597d6"/>
<rect x="150.05" y="447.81" width="2.3" height="2.1" rx="0.5" fill="#7597d6"/>
<rect x="151.45" y="449.15" width="2.3" height="2.1" rx="0.5" fill="#7597d6"/>
<rect x="156.95" y="449.15" width="2.3" height="2.1" rx="0.5" fill="#7597d6"/>
<rect x="119.45" y="451.15" width="2.3" height="2.1" rx="0.5" fill="#7597d6"/>
<rect x="141.85" y="451.15" width="2.3" height="2.1" rx="0.5" fill="#7597d6"/>
<line x1="22.50" y1="444.30" x2="160.50" y2="436.60" stroke="#323a7a" stroke-width="0.65" stroke-dasharray="2.4,0.9"/>
<rect x="15.50" y="342.50" width="152.00" height="117.00" fill="none" stroke="#9a9a9a" stroke-width="0.9"/>
<line x1="13.70" y1="454.20" x2="15.50" y2="454.20" stroke="#555" stroke-width="0.5"/>
<text x="13.20" y="455.80" font-size="4.6" text-anchor="end" fill="#666">0.0</text>
<line x1="13.70" y1="427.52" x2="15.50" y2="427.52" stroke="#555" stroke-width="0.5"/>
<text x="13.20" y="429.12" font-size="4.6" text-anchor="end" fill="#666">0.2</text>
<line x1="13.70" y1="400.84" x2="15.50" y2="400.84" stroke="#555" stroke-width="0.5"/>
<text x="13.20" y="402.44" font-size="4.6" text-anchor="end" fill="#666">0.4</text>
<line x1="13.70" y1="374.16" x2="15.50" y2="374.16" stroke="#555" stroke-width="0.5"/>
<text x="13.20" y="375.76" font-size="4.6" text-anchor="end" fill="#666">0.6</text>
<line x1="13.70" y1="347.48" x2="15.50" y2="347.48" stroke="#555" stroke-width="0.5"/>
<text x="13.20" y="349.08" font-size="4.6" text-anchor="end" fill="#666">0.8</text>
<line x1="22.50" y1="459.50" x2="22.50" y2="461.30" stroke="#555" stroke-width="0.5"/>
<text x="22.50" y="465.00" font-size="4.6" text-anchor="middle" fill="#666">0.00</text>
<line x1="58.50" y1="459.50" x2="58.50" y2="461.30" stroke="#555" stroke-width="0.5"/>
<text x="58.50" y="465.00" font-size="4.6" text-anchor="middle" fill="#666">0.25</text>
<line x1="94.50" y1="459.50" x2="94.50" y2="461.30" stroke="#555" stroke-width="0.5"/>
<text x="94.50" y="465.00" font-size="4.6" text-anchor="middle" fill="#666">0.50</text>
<line x1="130.50" y1="459.50" x2="130.50" y2="461.30" stroke="#555" stroke-width="0.5"/>
<text x="130.50" y="465.00" font-size="4.6" text-anchor="middle" fill="#666">0.75</text>
<line x1="166.50" y1="459.50" x2="166.50" y2="461.30" stroke="#555" stroke-width="0.5"/>
<text x="166.50" y="465.00" font-size="4.6" text-anchor="middle" fill="#666">1.00</text>
<text x="91.50" y="338.80" font-size="6.3" text-anchor="middle" fill="#000" font-weight="bold">Training Cohort</text>
<text x="91.50" y="470.60" font-size="5.4" text-anchor="middle" fill="#111">Probability</text>
<text x="5.10" y="400.20" font-size="5.4" text-anchor="middle" fill="#111" transform="rotate(-90 5.1 400.2)">Ki-67 Index</text>
<text x="29.50" y="352.20" font-size="5.9" text-anchor="start" fill="#111" font-style="italic">rho = 0.115</text>
<text x="29.50" y="360.50" font-size="5.9" text-anchor="start" fill="#111" font-style="italic">p = 0.023</text>
<line x1="187.50" y1="440.86" x2="339.50" y2="440.86" stroke="#f6f6f6" stroke-width="0.5"/>
<line x1="187.50" y1="414.18" x2="339.50" y2="414.18" stroke="#f6f6f6" stroke-width="0.5"/>
<line x1="187.50" y1="387.50" x2="339.50" y2="387.50" stroke="#f6f6f6" stroke-width="0.5"/>
<line x1="187.50" y1="360.82" x2="339.50" y2="360.82" stroke="#f6f6f6" stroke-width="0.5"/>
<line x1="187.50" y1="454.20" x2="339.50" y2="454.20" stroke="#ececec" stroke-width="0.6"/>
<line x1="187.50" y1="427.52" x2="339.50" y2="427.52" stroke="#ececec" stroke-width="0.6"/>
<line x1="187.50" y1="400.84" x2="339.50" y2="400.84" stroke="#ececec" stroke-width="0.6"/>
<line x1="187.50" y1="374.16" x2="339.50" y2="374.16" stroke="#ececec" stroke-width="0.6"/>
<line x1="187.50" y1="347.48" x2="339.50" y2="347.48" stroke="#ececec" stroke-width="0.6"/>
<line x1="193.00" y1="342.50" x2="193.00" y2="459.50" stroke="#ececec" stroke-width="0.6"/>
<line x1="212.93" y1="342.50" x2="212.93" y2="459.50" stroke="#f6f6f6" stroke-width="0.5"/>
<line x1="232.85" y1="342.50" x2="232.85" y2="459.50" stroke="#ececec" stroke-width="0.6"/>
<line x1="252.78" y1="342.50" x2="252.78" y2="459.50" stroke="#f6f6f6" stroke-width="0.5"/>
<line x1="272.70" y1="342.50" x2="272.70" y2="459.50" stroke="#ececec" stroke-width="0.6"/>
<line x1="292.62" y1="342.50" x2="292.62" y2="459.50" stroke="#f6f6f6" stroke-width="0.5"/>
<line x1="312.55" y1="342.50" x2="312.55" y2="459.50" stroke="#ececec" stroke-width="0.6"/>
<line x1="332.48" y1="342.50" x2="332.48" y2="459.50" stroke="#f6f6f6" stroke-width="0.5"/>
<path d="M194.25,445.70 L197.72,445.53 L201.19,445.35 L204.66,445.17 L208.12,444.99 L211.59,444.80 L215.06,444.60 L218.53,444.40 L222.00,444.19 L225.47,443.96 L228.94,443.73 L232.41,443.49 L235.88,443.24 L239.34,442.97 L242.81,442.69 L246.28,442.40 L249.75,442.09 L253.22,441.77 L256.69,441.44 L260.16,441.11 L263.62,440.76 L267.09,440.41 L270.56,440.06 L274.03,439.70 L277.50,439.34 L280.97,438.97 L284.44,438.60 L287.91,438.23 L291.38,437.86 L294.84,437.48 L298.31,437.11 L301.78,436.73 L305.25,436.35 L308.72,435.97 L312.19,435.59 L315.66,435.21 L319.12,434.83 L322.59,434.45 L326.06,434.07 L329.53,433.68 L333.00,433.30 L333.00,441.30 L329.53,441.43 L326.06,441.55 L322.59,441.68 L319.12,441.81 L315.66,441.94 L312.19,442.07 L308.72,442.20 L305.25,442.33 L301.78,442.46 L298.31,442.59 L294.84,442.73 L291.38,442.86 L287.91,443.00 L284.44,443.14 L280.97,443.28 L277.50,443.42 L274.03,443.57 L270.56,443.72 L267.09,443.88 L263.62,444.04 L260.16,444.20 L256.69,444.38 L253.22,444.56 L249.75,444.75 L246.28,444.95 L242.81,445.17 L239.34,445.40 L235.88,445.64 L232.41,445.90 L228.94,446.17 L225.47,446.45 L222.00,446.73 L218.53,447.03 L215.06,447.34 L211.59,447.65 L208.12,447.97 L204.66,448.30 L201.19,448.63 L197.72,448.96 L194.25,449.30 Z" fill="#d5d7e7" stroke="none"/>
<rect x="315.55" y="386.45" width="2.3" height="2.1" rx="0.5" fill="#7597d6"/>
<rect x="230.25" y="413.13" width="2.3" height="2.1" rx="0.5" fill="#7597d6"/>
<rect x="264.85" y="413.13" width="2.3" height="2.1" rx="0.5" fill="#7597d6"/>
<rect x="298.75" y="413.13" width="2.3" height="2.1" rx="0.5" fill="#7597d6"/>
<rect x="203.35" y="426.47" width="2.3" height="2.1" rx="0.5" fill="#7597d6"/>
<rect x="220.15" y="426.47" width="2.3" height="2.1" rx="0.5" fill="#7597d6"/>
<rect x="235.15" y="426.47" width="2.3" height="2.1" rx="0.5" fill="#7597d6"/>
<rect x="236.95" y="426.47" width="2.3" height="2.1" rx="0.5" fill="#7597d6"/>
<rect x="242.45" y="426.47" width="2.3" height="2.1" rx="0.5" fill="#7597d6"/>
<rect x="312.35" y="426.47" width="2.3" height="2.1" rx="0.5" fill="#7597d6"/>
<rect x="328.05" y="426.47" width="2.3" height="2.1" rx="0.5" fill="#7597d6"/>
<rect x="195.45" y="433.14" width="2.3" height="2.1" rx="0.5" fill="#7597d6"/>
<rect x="202.75" y="433.14" width="2.3" height="2.1" rx="0.5" fill="#7597d6"/>
<rect x="212.75" y="433.14" width="2.3" height="2.1" rx="0.5" fill="#7597d6"/>
<rect x="227.45" y="433.14" width="2.3" height="2.1" rx="0.5" fill="#7597d6"/>
<rect x="306.65" y="433.14" width="2.3" height="2.1" rx="0.5" fill="#7597d6"/>
<rect x="314.65" y="433.14" width="2.3" height="2.1" rx="0.5" fill="#7597d6"/>
<rect x="192.96" y="439.81" width="2.3" height="2.1" rx="0.5" fill="#7597d6"/>
<rect x="196.02" y="439.81" width="2.3" height="2.1" rx="0.5" fill="#7597d6"/>
<rect x="201.52" y="439.81" width="2.3" height="2.1" rx="0.5" fill="#7597d6"/>
<rect x="202.74" y="439.81" width="2.3" height="2.1" rx="0.5" fill="#7597d6"/>
<rect x="208.85" y="439.81" width="2.3" height="2.1" rx="0.5" fill="#7597d6"/>
<rect x="210.08" y="439.81" width="2.3" height="2.1" rx="0.5" fill="#7597d6"/>
<rect x="213.13" y="439.81" width="2.3" height="2.1" rx="0.5" fill="#7597d6"/>
<rect x="214.36" y="439.81" width="2.3" height="2.1" rx="0.5" fill="#7597d6"/>
<rect x="219.25" y="439.81" width="2.3" height="2.1" rx="0.5" fill="#7597d6"/>
<rect x="220.47" y="439.81" width="2.3" height="2.1" rx="0.5" fill="#7597d6"/>
<rect x="221.69" y="439.81" width="2.3" height="2.1" rx="0.5" fill="#7597d6"/>
<rect x="223.52" y="439.81" width="2.3" height="2.1" rx="0.5" fill="#7597d6"/>
<rect x="227.19" y="439.81" width="2.3" height="2.1" rx="0.5" fill="#7597d6"/>
<rect x="238.81" y="439.81" width="2.3" height="2.1" rx="0.5" fill="#7597d6"/>
<rect x="243.70" y="439.81" width="2.3" height="2.1" rx="0.5" fill="#7597d6"/>
<rect x="245.53" y="439.81" width="2.3" height="2.1" rx="0.5" fill="#7597d6"/>
<rect x="245.85" y="439.81" width="2.3" height="2.1" rx="0.5" fill="#7597d6"/>
<rect x="267.15" y="439.81" width="2.3" height="2.1" rx="0.5" fill="#7597d6"/>
<rect x="306.65" y="439.81" width="2.3" height="2.1" rx="0.5" fill="#7597d6"/>
<rect x="331.65" y="439.81" width="2.3" height="2.1" rx="0.5" fill="#7597d6"/>
<rect x="197.85" y="442.48" width="2.3" height="2.1" rx="0.5" fill="#7597d6"/>
<rect x="205.75" y="442.48" width="2.3" height="2.1" rx="0.5" fill="#7597d6"/>
<rect x="211.95" y="442.48" width="2.3" height="2.1" rx="0.5" fill="#7597d6"/>
<rect x="276.05" y="443.81" width="2.3" height="2.1" rx="0.5" fill="#7597d6"/>
<rect x="323.05" y="443.81" width="2.3" height="2.1" rx="0.5" fill="#7597d6"/>
<rect x="320.65" y="445.15" width="2.3" height="2.1" rx="0.5" fill="#7597d6"/>
<rect x="193.70" y="446.48" width="2.3" height="2.1" rx="0.5" fill="#7597d6"/>
<rect x="195.14" y="446.48" width="2.3" height="2.1" rx="0.5" fill="#7597d6"/>
<rect x="197.70" y="446.48" width="2.3" height="2.1" rx="0.5" fill="#7597d6"/>
<rect x="199.47" y="446.48" width="2.3" height="2.1" rx="0.5" fill="#7597d6"/>
<rect x="200.92" y="446.48" width="2.3" height="2.1" rx="0.5" fill="#7597d6"/>
<rect x="202.94" y="446.48" width="2.3" height="2.1" rx="0.5" fill="#7597d6"/>
<rect x="205.35" y="446.48" width="2.3" height="2.1" rx="0.5" fill="#7597d6"/>
<rect x="206.79" y="446.48" width="2.3" height="2.1" rx="0.5" fill="#7597d6"/>
<rect x="208.95" y="446.48" width="2.3" height="2.1" rx="0.5" fill="#7597d6"/>
<rect x="210.38" y="446.48" width="2.3" height="2.1" rx="0.5" fill="#7597d6"/>
<rect x="212.90" y="446.48" width="2.3" height="2.1" rx="0.5" fill="#7597d6"/>
<rect x="214.19" y="446.48" width="2.3" height="2.1" rx="0.5" fill="#7597d6"/>
<rect x="216.76" y="446.48" width="2.3" height="2.1" rx="0.5" fill="#7597d6"/>
<rect x="222.30" y="446.48" width="2.3" height="2.1" rx="0.5" fill="#7597d6"/>
<rect x="225.97" y="446.48" width="2.3" height="2.1" rx="0.5" fill="#7597d6"/>
<rect x="229.03" y="446.48" width="2.3" height="2.1" rx="0.5" fill="#7597d6"/>
<rect x="233.30" y="446.48" width="2.3" height="2.1" rx="0.5" fill="#7597d6"/>
<rect x="235.75" y="446.48" width="2.3" height="2.1" rx="0.5" fill="#7597d6"/>
<rect x="237.58" y="446.48" width="2.3" height="2.1" rx="0.5" fill="#7597d6"/>
<rect x="246.75" y="446.48" width="2.3" height="2.1" rx="0.5" fill="#7597d6"/>
<rect x="249.85" y="446.48" width="2.3" height="2.1" rx="0.5" fill="#7597d6"/>
<rect x="252.45" y="446.48" width="2.3" height="2.1" rx="0.5" fill="#7597d6"/>
<rect x="253.85" y="446.48" width="2.3" height="2.1" rx="0.5" fill="#7597d6"/>
<rect x="255.15" y="446.48" width="2.3" height="2.1" rx="0.5" fill="#7597d6"/>
<rect x="265.75" y="446.48" width="2.3" height="2.1" rx="0.5" fill="#7597d6"/>
<rect x="269.75" y="446.48" width="2.3" height="2.1" rx="0.5" fill="#7597d6"/>
<rect x="281.05" y="446.48" width="2.3" height="2.1" rx="0.5" fill="#7597d6"/>
<rect x="288.35" y="446.48" width="2.3" height="2.1" rx="0.5" fill="#7597d6"/>
<rect x="293.75" y="446.48" width="2.3" height="2.1" rx="0.5" fill="#7597d6"/>
<rect x="295.05" y="446.48" width="2.3" height="2.1" rx="0.5" fill="#7597d6"/>
<rect x="289.65" y="446.48" width="2.3" height="2.1" rx="0.5" fill="#7597d6"/>
<rect x="294.65" y="446.48" width="2.3" height="2.1" rx="0.5" fill="#7597d6"/>
<rect x="311.35" y="446.48" width="2.3" height="2.1" rx="0.5" fill="#7597d6"/>
<rect x="329.65" y="446.48" width="2.3" height="2.1" rx="0.5" fill="#7597d6"/>
<rect x="194.80" y="449.15" width="2.3" height="2.1" rx="0.5" fill="#7597d6"/>
<rect x="196.63" y="449.15" width="2.3" height="2.1" rx="0.5" fill="#7597d6"/>
<rect x="198.46" y="449.15" width="2.3" height="2.1" rx="0.5" fill="#7597d6"/>
<rect x="200.30" y="449.15" width="2.3" height="2.1" rx="0.5" fill="#7597d6"/>
<rect x="202.13" y="449.15" width="2.3" height="2.1" rx="0.5" fill="#7597d6"/>
<rect x="203.96" y="449.15" width="2.3" height="2.1" rx="0.5" fill="#7597d6"/>
<rect x="208.24" y="449.15" width="2.3" height="2.1" rx="0.5" fill="#7597d6"/>
<rect x="210.69" y="449.15" width="2.3" height="2.1" rx="0.5" fill="#7597d6"/>
<rect x="216.80" y="449.15" width="2.3" height="2.1" rx="0.5" fill="#7597d6"/>
<rect x="221.08" y="449.15" width="2.3" height="2.1" rx="0.5" fill="#7597d6"/>
<rect x="224.75" y="449.15" width="2.3" height="2.1" rx="0.5" fill="#7597d6"/>
<rect x="227.80" y="449.15" width="2.3" height="2.1" rx="0.5" fill="#7597d6"/>
<rect x="229.64" y="449.15" width="2.3" height="2.1" rx="0.5" fill="#7597d6"/>
<rect x="236.97" y="449.15" width="2.3" height="2.1" rx="0.5" fill="#7597d6"/>
<rect x="238.81" y="449.15" width="2.3" height="2.1" rx="0.5" fill="#7597d6"/>
<rect x="244.31" y="449.15" width="2.3" height="2.1" rx="0.5" fill="#7597d6"/>
<rect x="246.14" y="449.15" width="2.3" height="2.1" rx="0.5" fill="#7597d6"/>
<rect x="247.97" y="449.15" width="2.3" height="2.1" rx="0.5" fill="#7597d6"/>
<rect x="257.85" y="449.15" width="2.3" height="2.1" rx="0.5" fill="#7597d6"/>
<rect x="269.15" y="449.15" width="2.3" height="2.1" rx="0.5" fill="#7597d6"/>
<rect x="277.05" y="449.15" width="2.3" height="2.1" rx="0.5" fill="#7597d6"/>
<rect x="283.75" y="449.15" width="2.3" height="2.1" rx="0.5" fill="#7597d6"/>
<rect x="290.35" y="449.15" width="2.3" height="2.1" rx="0.5" fill="#7597d6"/>
<rect x="297.75" y="449.15" width="2.3" height="2.1" rx="0.5" fill="#7597d6"/>
<rect x="290.85" y="449.15" width="2.3" height="2.1" rx="0.5" fill="#7597d6"/>
<rect x="297.85" y="447.81" width="2.3" height="2.1" rx="0.5" fill="#7597d6"/>
<rect x="196.63" y="451.15" width="2.3" height="2.1" rx="0.5" fill="#7597d6"/>
<rect x="207.63" y="451.15" width="2.3" height="2.1" rx="0.5" fill="#7597d6"/>
<rect x="210.69" y="451.15" width="2.3" height="2.1" rx="0.5" fill="#7597d6"/>
<rect x="224.75" y="451.15" width="2.3" height="2.1" rx="0.5" fill="#7597d6"/>
<rect x="256.45" y="451.15" width="2.3" height="2.1" rx="0.5" fill="#7597d6"/>
<rect x="271.15" y="451.15" width="2.3" height="2.1" rx="0.5" fill="#7597d6"/>
<line x1="194.25" y1="447.50" x2="333.00" y2="437.30" stroke="#323a7a" stroke-width="0.65" stroke-dasharray="2.4,0.9"/>
<rect x="187.50" y="342.50" width="152.00" height="117.00" fill="none" stroke="#9a9a9a" stroke-width="0.9"/>
<line x1="185.70" y1="454.20" x2="187.50" y2="454.20" stroke="#555" stroke-width="0.5"/>
<text x="185.20" y="455.80" font-size="4.6" text-anchor="end" fill="#666">0.0</text>
<line x1="185.70" y1="427.52" x2="187.50" y2="427.52" stroke="#555" stroke-width="0.5"/>
<text x="185.20" y="429.12" font-size="4.6" text-anchor="end" fill="#666">0.2</text>
<line x1="185.70" y1="400.84" x2="187.50" y2="400.84" stroke="#555" stroke-width="0.5"/>
<text x="185.20" y="402.44" font-size="4.6" text-anchor="end" fill="#666">0.4</text>
<line x1="185.70" y1="374.16" x2="187.50" y2="374.16" stroke="#555" stroke-width="0.5"/>
<text x="185.20" y="375.76" font-size="4.6" text-anchor="end" fill="#666">0.6</text>
<line x1="185.70" y1="347.48" x2="187.50" y2="347.48" stroke="#555" stroke-width="0.5"/>
<text x="185.20" y="349.08" font-size="4.6" text-anchor="end" fill="#666">0.8</text>
<line x1="193.00" y1="459.50" x2="193.00" y2="461.30" stroke="#555" stroke-width="0.5"/>
<text x="193.00" y="465.00" font-size="4.6" text-anchor="middle" fill="#666">0.00</text>
<line x1="232.85" y1="459.50" x2="232.85" y2="461.30" stroke="#555" stroke-width="0.5"/>
<text x="232.85" y="465.00" font-size="4.6" text-anchor="middle" fill="#666">0.25</text>
<line x1="272.70" y1="459.50" x2="272.70" y2="461.30" stroke="#555" stroke-width="0.5"/>
<text x="272.70" y="465.00" font-size="4.6" text-anchor="middle" fill="#666">0.50</text>
<line x1="312.55" y1="459.50" x2="312.55" y2="461.30" stroke="#555" stroke-width="0.5"/>
<text x="312.55" y="465.00" font-size="4.6" text-anchor="middle" fill="#666">0.75</text>
<text x="263.50" y="338.80" font-size="6.3" text-anchor="middle" fill="#000" font-weight="bold">Testing Cohort</text>
<text x="263.50" y="470.60" font-size="5.4" text-anchor="middle" fill="#111">Probability</text>
<text x="177.10" y="400.20" font-size="5.4" text-anchor="middle" fill="#111" transform="rotate(-90 177.1 400.2)">Ki-67 Index</text>
<text x="201.50" y="352.20" font-size="5.9" text-anchor="start" fill="#111" font-style="italic">rho = 0.194</text>
<text x="201.50" y="360.50" font-size="5.9" text-anchor="start" fill="#111" font-style="italic">p = 0.016</text>
<line x1="359.50" y1="440.86" x2="511.50" y2="440.86" stroke="#f6f6f6" stroke-width="0.5"/>
<line x1="359.50" y1="414.18" x2="511.50" y2="414.18" stroke="#f6f6f6" stroke-width="0.5"/>
<line x1="359.50" y1="387.50" x2="511.50" y2="387.50" stroke="#f6f6f6" stroke-width="0.5"/>
<line x1="359.50" y1="360.82" x2="511.50" y2="360.82" stroke="#f6f6f6" stroke-width="0.5"/>
<line x1="359.50" y1="454.20" x2="511.50" y2="454.20" stroke="#ececec" stroke-width="0.6"/>
<line x1="359.50" y1="427.52" x2="511.50" y2="427.52" stroke="#ececec" stroke-width="0.6"/>
<line x1="359.50" y1="400.84" x2="511.50" y2="400.84" stroke="#ececec" stroke-width="0.6"/>
<line x1="359.50" y1="374.16" x2="511.50" y2="374.16" stroke="#ececec" stroke-width="0.6"/>
<line x1="359.50" y1="347.48" x2="511.50" y2="347.48" stroke="#ececec" stroke-width="0.6"/>
<line x1="365.75" y1="342.50" x2="365.75" y2="459.50" stroke="#ececec" stroke-width="0.6"/>
<line x1="383.69" y1="342.50" x2="383.69" y2="459.50" stroke="#f6f6f6" stroke-width="0.5"/>
<line x1="401.62" y1="342.50" x2="401.62" y2="459.50" stroke="#ececec" stroke-width="0.6"/>
<line x1="419.56" y1="342.50" x2="419.56" y2="459.50" stroke="#f6f6f6" stroke-width="0.5"/>
<line x1="437.50" y1="342.50" x2="437.50" y2="459.50" stroke="#ececec" stroke-width="0.6"/>
<line x1="455.44" y1="342.50" x2="455.44" y2="459.50" stroke="#f6f6f6" stroke-width="0.5"/>
<line x1="473.38" y1="342.50" x2="473.38" y2="459.50" stroke="#ececec" stroke-width="0.6"/>
<line x1="491.31" y1="342.50" x2="491.31" y2="459.50" stroke="#f6f6f6" stroke-width="0.5"/>
<line x1="509.25" y1="342.50" x2="509.25" y2="459.50" stroke="#ececec" stroke-width="0.6"/>
<path d="M366.25,441.00 L369.71,440.76 L373.16,440.51 L376.62,440.25 L380.07,439.99 L383.53,439.71 L386.99,439.41 L390.44,439.10 L393.90,438.77 L397.36,438.42 L400.81,438.05 L404.27,437.66 L407.73,437.26 L411.18,436.83 L414.64,436.40 L418.09,435.95 L421.55,435.48 L425.01,435.01 L428.46,434.52 L431.92,434.03 L435.38,433.53 L438.83,433.03 L442.29,432.52 L445.74,432.00 L449.20,431.48 L452.66,430.96 L456.11,430.43 L459.57,429.91 L463.02,429.37 L466.48,428.84 L469.94,428.31 L473.39,427.77 L476.85,427.23 L480.31,426.70 L483.76,426.16 L487.22,425.62 L490.68,425.07 L494.13,424.53 L497.59,423.99 L501.04,423.44 L504.50,422.90 L504.50,434.30 L501.04,434.51 L497.59,434.71 L494.13,434.92 L490.68,435.13 L487.22,435.33 L483.76,435.54 L480.31,435.75 L476.85,435.97 L473.39,436.18 L469.94,436.39 L466.48,436.61 L463.02,436.83 L459.57,437.04 L456.11,437.27 L452.66,437.49 L449.20,437.72 L445.74,437.95 L442.29,438.18 L438.83,438.42 L435.38,438.67 L431.92,438.92 L428.46,439.18 L425.01,439.44 L421.55,439.72 L418.09,440.00 L414.64,440.30 L411.18,440.62 L407.73,440.94 L404.27,441.29 L400.81,441.65 L397.36,442.03 L393.90,442.43 L390.44,442.85 L386.99,443.29 L383.53,443.74 L380.07,444.21 L376.62,444.70 L373.16,445.19 L369.71,445.69 L366.25,446.20 Z" fill="#d5d7e7" stroke="none"/>
<rect x="465.65" y="359.77" width="2.3" height="2.1" rx="0.5" fill="#7597d6"/>
<rect x="503.25" y="386.45" width="2.3" height="2.1" rx="0.5" fill="#7597d6"/>
<rect x="377.25" y="399.79" width="2.3" height="2.1" rx="0.5" fill="#7597d6"/>
<rect x="380.35" y="399.79" width="2.3" height="2.1" rx="0.5" fill="#7597d6"/>
<rect x="482.05" y="399.79" width="2.3" height="2.1" rx="0.5" fill="#7597d6"/>
<rect x="493.05" y="399.79" width="2.3" height="2.1" rx="0.5" fill="#7597d6"/>
<rect x="396.85" y="413.13" width="2.3" height="2.1" rx="0.5" fill="#7597d6"/>
<rect x="413.05" y="413.13" width="2.3" height="2.1" rx="0.5" fill="#7597d6"/>
<rect x="465.05" y="413.13" width="2.3" height="2.1" rx="0.5" fill="#7597d6"/>
<rect x="483.25" y="413.13" width="2.3" height="2.1" rx="0.5" fill="#7597d6"/>
<rect x="454.85" y="419.80" width="2.3" height="2.1" rx="0.5" fill="#7597d6"/>
<rect x="371.45" y="426.47" width="2.3" height="2.1" rx="0.5" fill="#7597d6"/>
<rect x="373.15" y="426.47" width="2.3" height="2.1" rx="0.5" fill="#7597d6"/>
<rect x="374.95" y="426.47" width="2.3" height="2.1" rx="0.5" fill="#7597d6"/>
<rect x="386.85" y="426.47" width="2.3" height="2.1" rx="0.5" fill="#7597d6"/>
<rect x="388.25" y="426.47" width="2.3" height="2.1" rx="0.5" fill="#7597d6"/>
<rect x="389.65" y="426.47" width="2.3" height="2.1" rx="0.5" fill="#7597d6"/>
<rect x="396.45" y="426.47" width="2.3" height="2.1" rx="0.5" fill="#7597d6"/>
<rect x="405.05" y="426.47" width="2.3" height="2.1" rx="0.5" fill="#7597d6"/>
<rect x="409.75" y="426.47" width="2.3" height="2.1" rx="0.5" fill="#7597d6"/>
<rect x="414.85" y="426.47" width="2.3" height="2.1" rx="0.5" fill="#7597d6"/>
<rect x="423.15" y="426.47" width="2.3" height="2.1" rx="0.5" fill="#7597d6"/>
<rect x="430.85" y="426.47" width="2.3" height="2.1" rx="0.5" fill="#7597d6"/>
<rect x="436.15" y="426.47" width="2.3" height="2.1" rx="0.5" fill="#7597d6"/>
<rect x="437.55" y="426.47" width="2.3" height="2.1" rx="0.5" fill="#7597d6"/>
<rect x="461.25" y="426.47" width="2.3" height="2.1" rx="0.5" fill="#7597d6"/>
<rect x="367.45" y="433.14" width="2.3" height="2.1" rx="0.5" fill="#7597d6"/>
<rect x="368.85" y="433.14" width="2.3" height="2.1" rx="0.5" fill="#7597d6"/>
<rect x="370.35" y="433.14" width="2.3" height="2.1" rx="0.5" fill="#7597d6"/>
<rect x="374.65" y="433.14" width="2.3" height="2.1" rx="0.5" fill="#7597d6"/>
<rect x="378.95" y="433.14" width="2.3" height="2.1" rx="0.5" fill="#7597d6"/>
<rect x="380.35" y="433.14" width="2.3" height="2.1" rx="0.5" fill="#7597d6"/>
<rect x="388.95" y="433.14" width="2.3" height="2.1" rx="0.5" fill="#7597d6"/>
<rect x="390.45" y="433.14" width="2.3" height="2.1" rx="0.5" fill="#7597d6"/>
<rect x="391.85" y="433.14" width="2.3" height="2.1" rx="0.5" fill="#7597d6"/>
<rect x="393.25" y="433.14" width="2.3" height="2.1" rx="0.5" fill="#7597d6"/>
<rect x="395.45" y="433.14" width="2.3" height="2.1" rx="0.5" fill="#7597d6"/>
<rect x="396.85" y="433.14" width="2.3" height="2.1" rx="0.5" fill="#7597d6"/>
<rect x="411.65" y="433.14" width="2.3" height="2.1" rx="0.5" fill="#7597d6"/>
<rect x="423.15" y="433.14" width="2.3" height="2.1" rx="0.5" fill="#7597d6"/>
<rect x="431.05" y="433.14" width="2.3" height="2.1" rx="0.5" fill="#7597d6"/>
<rect x="435.45" y="433.14" width="2.3" height="2.1" rx="0.5" fill="#7597d6"/>
<rect x="441.15" y="433.14" width="2.3" height="2.1" rx="0.5" fill="#7597d6"/>
<rect x="469.15" y="433.14" width="2.3" height="2.1" rx="0.5" fill="#7597d6"/>
<rect x="365.96" y="439.81" width="2.3" height="2.1" rx="0.5" fill="#7597d6"/>
<rect x="367.63" y="439.81" width="2.3" height="2.1" rx="0.5" fill="#7597d6"/>
<rect x="369.93" y="439.81" width="2.3" height="2.1" rx="0.5" fill="#7597d6"/>
<rect x="371.47" y="439.81" width="2.3" height="2.1" rx="0.5" fill="#7597d6"/>
<rect x="373.21" y="439.81" width="2.3" height="2.1" rx="0.5" fill="#7597d6"/>
<rect x="383.96" y="439.81" width="2.3" height="2.1" rx="0.5" fill="#7597d6"/>
<rect x="384.67" y="439.81" width="2.3" height="2.1" rx="0.5" fill="#7597d6"/>
<rect x="385.39" y="439.81" width="2.3" height="2.1" rx="0.5" fill="#7597d6"/>
<rect x="395.44" y="439.81" width="2.3" height="2.1" rx="0.5" fill="#7597d6"/>
<rect x="401.89" y="439.81" width="2.3" height="2.1" rx="0.5" fill="#7597d6"/>
<rect x="404.04" y="439.81" width="2.3" height="2.1" rx="0.5" fill="#7597d6"/>
<rect x="406.20" y="439.81" width="2.3" height="2.1" rx="0.5" fill="#7597d6"/>
<rect x="410.50" y="439.81" width="2.3" height="2.1" rx="0.5" fill="#7597d6"/>
<rect x="412.65" y="439.81" width="2.3" height="2.1" rx="0.5" fill="#7597d6"/>
<rect x="419.55" y="439.81" width="2.3" height="2.1" rx="0.5" fill="#7597d6"/>
<rect x="421.05" y="439.81" width="2.3" height="2.1" rx="0.5" fill="#7597d6"/>
<rect x="439.75" y="439.81" width="2.3" height="2.1" rx="0.5" fill="#7597d6"/>
<rect x="444.75" y="439.81" width="2.3" height="2.1" rx="0.5" fill="#7597d6"/>
<rect x="446.15" y="439.81" width="2.3" height="2.1" rx="0.5" fill="#7597d6"/>
<rect x="464.15" y="439.81" width="2.3" height="2.1" rx="0.5" fill="#7597d6"/>
<rect x="466.25" y="439.81" width="2.3" height="2.1" rx="0.5" fill="#7597d6"/>
<rect x="467.75" y="439.81" width="2.3" height="2.1" rx="0.5" fill="#7597d6"/>
<rect x="464.55" y="439.81" width="2.3" height="2.1" rx="0.5" fill="#7597d6"/>
<rect x="477.05" y="439.81" width="2.3" height="2.1" rx="0.5" fill="#7597d6"/>
<rect x="482.75" y="439.81" width="2.3" height="2.1" rx="0.5" fill="#7597d6"/>
<rect x="493.05" y="439.81" width="2.3" height="2.1" rx="0.5" fill="#7597d6"/>
<rect x="383.96" y="442.48" width="2.3" height="2.1" rx="0.5" fill="#7597d6"/>
<rect x="385.39" y="442.48" width="2.3" height="2.1" rx="0.5" fill="#7597d6"/>
<rect x="365.74" y="446.48" width="2.3" height="2.1" rx="0.5" fill="#7597d6"/>
<rect x="367.46" y="446.48" width="2.3" height="2.1" rx="0.5" fill="#7597d6"/>
<rect x="370.33" y="446.48" width="2.3" height="2.1" rx="0.5" fill="#7597d6"/>
<rect x="371.76" y="446.48" width="2.3" height="2.1" rx="0.5" fill="#7597d6"/>
<rect x="377.50" y="446.48" width="2.3" height="2.1" rx="0.5" fill="#7597d6"/>
<rect x="378.94" y="446.48" width="2.3" height="2.1" rx="0.5" fill="#7597d6"/>
<rect x="381.81" y="446.48" width="2.3" height="2.1" rx="0.5" fill="#7597d6"/>
<rect x="383.24" y="446.48" width="2.3" height="2.1" rx="0.5" fill="#7597d6"/>
<rect x="388.26" y="446.48" width="2.3" height="2.1" rx="0.5" fill="#7597d6"/>
<rect x="393.28" y="446.48" width="2.3" height="2.1" rx="0.5" fill="#7597d6"/>
<rect x="397.59" y="446.48" width="2.3" height="2.1" rx="0.5" fill="#7597d6"/>
<rect x="399.02" y="446.48" width="2.3" height="2.1" rx="0.5" fill="#7597d6"/>
<rect x="406.91" y="446.48" width="2.3" height="2.1" rx="0.5" fill="#7597d6"/>
<rect x="409.07" y="446.48" width="2.3" height="2.1" rx="0.5" fill="#7597d6"/>
<rect x="411.22" y="446.48" width="2.3" height="2.1" rx="0.5" fill="#7597d6"/>
<rect x="415.52" y="446.48" width="2.3" height="2.1" rx="0.5" fill="#7597d6"/>
<rect x="419.55" y="446.48" width="2.3" height="2.1" rx="0.5" fill="#7597d6"/>
<rect x="421.05" y="446.48" width="2.3" height="2.1" rx="0.5" fill="#7597d6"/>
<rect x="422.45" y="446.48" width="2.3" height="2.1" rx="0.5" fill="#7597d6"/>
<rect x="426.75" y="446.48" width="2.3" height="2.1" rx="0.5" fill="#7597d6"/>
<rect x="427.95" y="446.48" width="2.3" height="2.1" rx="0.5" fill="#7597d6"/>
<rect x="436.85" y="446.48" width="2.3" height="2.1" rx="0.5" fill="#7597d6"/>
<rect x="448.35" y="446.48" width="2.3" height="2.1" rx="0.5" fill="#7597d6"/>
<rect x="449.75" y="446.48" width="2.3" height="2.1" rx="0.5" fill="#7597d6"/>
<rect x="456.95" y="446.48" width="2.3" height="2.1" rx="0.5" fill="#7597d6"/>
<rect x="465.85" y="446.48" width="2.3" height="2.1" rx="0.5" fill="#7597d6"/>
<rect x="473.65" y="446.48" width="2.3" height="2.1" rx="0.5" fill="#7597d6"/>
<rect x="475.95" y="446.48" width="2.3" height="2.1" rx="0.5" fill="#7597d6"/>
<rect x="494.15" y="446.48" width="2.3" height="2.1" rx="0.5" fill="#7597d6"/>
<rect x="366.02" y="448.48" width="2.3" height="2.1" rx="0.5" fill="#7597d6"/>
<rect x="367.46" y="448.48" width="2.3" height="2.1" rx="0.5" fill="#7597d6"/>
<rect x="378.94" y="448.48" width="2.3" height="2.1" rx="0.5" fill="#7597d6"/>
<rect x="388.26" y="448.48" width="2.3" height="2.1" rx="0.5" fill="#7597d6"/>
<rect x="406.20" y="448.48" width="2.3" height="2.1" rx="0.5" fill="#7597d6"/>
<rect x="417.67" y="448.48" width="2.3" height="2.1" rx="0.5" fill="#7597d6"/>
<rect x="416.05" y="448.48" width="2.3" height="2.1" rx="0.5" fill="#7597d6"/>
<rect x="426.75" y="448.48" width="2.3" height="2.1" rx="0.5" fill="#7597d6"/>
<rect x="365.31" y="450.75" width="2.3" height="2.1" rx="0.5" fill="#7597d6"/>
<rect x="368.89" y="450.75" width="2.3" height="2.1" rx="0.5" fill="#7597d6"/>
<rect x="370.33" y="450.75" width="2.3" height="2.1" rx="0.5" fill="#7597d6"/>
<rect x="371.76" y="450.75" width="2.3" height="2.1" rx="0.5" fill="#7597d6"/>
<rect x="378.22" y="450.75" width="2.3" height="2.1" rx="0.5" fill="#7597d6"/>
<rect x="380.37" y="450.75" width="2.3" height="2.1" rx="0.5" fill="#7597d6"/>
<rect x="382.52" y="450.75" width="2.3" height="2.1" rx="0.5" fill="#7597d6"/>
<rect x="384.67" y="450.75" width="2.3" height="2.1" rx="0.5" fill="#7597d6"/>
<rect x="419.35" y="450.75" width="2.3" height="2.1" rx="0.5" fill="#7597d6"/>
<rect x="460.55" y="450.75" width="2.3" height="2.1" rx="0.5" fill="#7597d6"/>
<line x1="366.25" y1="443.60" x2="504.50" y2="428.60" stroke="#323a7a" stroke-width="0.65" stroke-dasharray="2.4,0.9"/>
<rect x="359.50" y="342.50" width="152.00" height="117.00" fill="none" stroke="#9a9a9a" stroke-width="0.9"/>
<line x1="357.70" y1="454.20" x2="359.50" y2="454.20" stroke="#555" stroke-width="0.5"/>
<text x="357.20" y="455.80" font-size="4.6" text-anchor="end" fill="#666">0.0</text>
<line x1="357.70" y1="427.52" x2="359.50" y2="427.52" stroke="#555" stroke-width="0.5"/>
<text x="357.20" y="429.12" font-size="4.6" text-anchor="end" fill="#666">0.2</text>
<line x1="357.70" y1="400.84" x2="359.50" y2="400.84" stroke="#555" stroke-width="0.5"/>
<text x="357.20" y="402.44" font-size="4.6" text-anchor="end" fill="#666">0.4</text>
<line x1="357.70" y1="374.16" x2="359.50" y2="374.16" stroke="#555" stroke-width="0.5"/>
<text x="357.20" y="375.76" font-size="4.6" text-anchor="end" fill="#666">0.6</text>
<line x1="357.70" y1="347.48" x2="359.50" y2="347.48" stroke="#555" stroke-width="0.5"/>
<text x="357.20" y="349.08" font-size="4.6" text-anchor="end" fill="#666">0.8</text>
<line x1="365.75" y1="459.50" x2="365.75" y2="461.30" stroke="#555" stroke-width="0.5"/>
<text x="365.75" y="465.00" font-size="4.6" text-anchor="middle" fill="#666">0.00</text>
<line x1="401.62" y1="459.50" x2="401.62" y2="461.30" stroke="#555" stroke-width="0.5"/>
<text x="401.62" y="465.00" font-size="4.6" text-anchor="middle" fill="#666">0.25</text>
<line x1="437.50" y1="459.50" x2="437.50" y2="461.30" stroke="#555" stroke-width="0.5"/>
<text x="437.50" y="465.00" font-size="4.6" text-anchor="middle" fill="#666">0.50</text>
<line x1="473.38" y1="459.50" x2="473.38" y2="461.30" stroke="#555" stroke-width="0.5"/>
<text x="473.38" y="465.00" font-size="4.6" text-anchor="middle" fill="#666">0.75</text>
<line x1="509.25" y1="459.50" x2="509.25" y2="461.30" stroke="#555" stroke-width="0.5"/>
<text x="509.25" y="465.00" font-size="4.6" text-anchor="middle" fill="#666">1.00</text>
<text x="435.50" y="338.80" font-size="6.3" text-anchor="middle" fill="#000" font-weight="bold">Validation II</text>
<text x="435.50" y="470.60" font-size="5.4" text-anchor="middle" fill="#111">Probability</text>
<text x="349.10" y="400.20" font-size="5.4" text-anchor="middle" fill="#111" transform="rotate(-90 349.1 400.2)">Ki-67 Index</text>
<text x="373.50" y="352.20" font-size="5.9" text-anchor="start" fill="#111" font-style="italic">rho = 0.223</text>
<text x="373.50" y="360.50" font-size="5.9" text-anchor="start" fill="#111" font-style="italic">p = 0.0067</text>
<line x1="530.50" y1="440.86" x2="683.50" y2="440.86" stroke="#f6f6f6" stroke-width="0.5"/>
<line x1="530.50" y1="414.18" x2="683.50" y2="414.18" stroke="#f6f6f6" stroke-width="0.5"/>
<line x1="530.50" y1="387.50" x2="683.50" y2="387.50" stroke="#f6f6f6" stroke-width="0.5"/>
<line x1="530.50" y1="360.82" x2="683.50" y2="360.82" stroke="#f6f6f6" stroke-width="0.5"/>
<line x1="530.50" y1="454.20" x2="683.50" y2="454.20" stroke="#ececec" stroke-width="0.6"/>
<line x1="530.50" y1="427.52" x2="683.50" y2="427.52" stroke="#ececec" stroke-width="0.6"/>
<line x1="530.50" y1="400.84" x2="683.50" y2="400.84" stroke="#ececec" stroke-width="0.6"/>
<line x1="530.50" y1="374.16" x2="683.50" y2="374.16" stroke="#ececec" stroke-width="0.6"/>
<line x1="530.50" y1="347.48" x2="683.50" y2="347.48" stroke="#ececec" stroke-width="0.6"/>
<line x1="535.25" y1="342.50" x2="535.25" y2="459.50" stroke="#ececec" stroke-width="0.6"/>
<line x1="555.25" y1="342.50" x2="555.25" y2="459.50" stroke="#f6f6f6" stroke-width="0.5"/>
<line x1="575.25" y1="342.50" x2="575.25" y2="459.50" stroke="#ececec" stroke-width="0.6"/>
<line x1="595.25" y1="342.50" x2="595.25" y2="459.50" stroke="#f6f6f6" stroke-width="0.5"/>
<line x1="615.25" y1="342.50" x2="615.25" y2="459.50" stroke="#ececec" stroke-width="0.6"/>
<line x1="635.25" y1="342.50" x2="635.25" y2="459.50" stroke="#f6f6f6" stroke-width="0.5"/>
<line x1="655.25" y1="342.50" x2="655.25" y2="459.50" stroke="#ececec" stroke-width="0.6"/>
<line x1="675.25" y1="342.50" x2="675.25" y2="459.50" stroke="#f6f6f6" stroke-width="0.5"/>
<path d="M538.25,441.10 L541.69,440.83 L545.14,440.54 L548.58,440.25 L552.02,439.95 L555.47,439.64 L558.91,439.31 L562.36,438.96 L565.80,438.60 L569.24,438.22 L572.69,437.82 L576.13,437.40 L579.58,436.95 L583.02,436.48 L586.46,435.98 L589.91,435.47 L593.35,434.94 L596.79,434.39 L600.24,433.83 L603.68,433.26 L607.12,432.67 L610.57,432.08 L614.01,431.49 L617.46,430.88 L620.90,430.27 L624.34,429.66 L627.79,429.04 L631.23,428.42 L634.67,427.80 L638.12,427.18 L641.56,426.55 L645.01,425.92 L648.45,425.29 L651.89,424.66 L655.34,424.02 L658.78,423.39 L662.23,422.75 L665.67,422.11 L669.11,421.48 L672.56,420.84 L676.00,420.20 L676.00,433.80 L672.56,434.02 L669.11,434.23 L665.67,434.45 L662.23,434.67 L658.78,434.89 L655.34,435.11 L651.89,435.33 L648.45,435.55 L645.01,435.78 L641.56,436.00 L638.12,436.23 L634.67,436.46 L631.23,436.69 L627.79,436.93 L624.34,437.17 L620.90,437.41 L617.46,437.65 L614.01,437.90 L610.57,438.16 L607.12,438.43 L603.68,438.70 L600.24,438.98 L596.79,439.28 L593.35,439.58 L589.91,439.91 L586.46,440.25 L583.02,440.61 L579.58,440.99 L576.13,441.40 L572.69,441.83 L569.24,442.28 L565.80,442.76 L562.36,443.25 L558.91,443.76 L555.47,444.29 L552.02,444.83 L548.58,445.38 L545.14,445.95 L541.69,446.52 L538.25,447.10 Z" fill="#d5d7e7" stroke="none"/>
<rect x="573.15" y="359.77" width="2.3" height="2.1" rx="0.5" fill="#7597d6"/>
<rect x="639.75" y="359.77" width="2.3" height="2.1" rx="0.5" fill="#7597d6"/>
<rect x="555.55" y="373.11" width="2.3" height="2.1" rx="0.5" fill="#7597d6"/>
<rect x="659.65" y="373.11" width="2.3" height="2.1" rx="0.5" fill="#7597d6"/>
<rect x="658.95" y="386.45" width="2.3" height="2.1" rx="0.5" fill="#7597d6"/>
<rect x="649.35" y="399.79" width="2.3" height="2.1" rx="0.5" fill="#7597d6"/>
<rect x="659.65" y="399.79" width="2.3" height="2.1" rx="0.5" fill="#7597d6"/>
<rect x="665.75" y="399.79" width="2.3" height="2.1" rx="0.5" fill="#7597d6"/>
<rect x="674.85" y="399.79" width="2.3" height="2.1" rx="0.5" fill="#7597d6"/>
<rect x="537.35" y="413.13" width="2.3" height="2.1" rx="0.5" fill="#7597d6"/>
<rect x="538.75" y="413.13" width="2.3" height="2.1" rx="0.5" fill="#7597d6"/>
<rect x="551.65" y="413.13" width="2.3" height="2.1" rx="0.5" fill="#7597d6"/>
<rect x="555.95" y="413.13" width="2.3" height="2.1" rx="0.5" fill="#7597d6"/>
<rect x="581.75" y="413.13" width="2.3" height="2.1" rx="0.5" fill="#7597d6"/>
<rect x="625.95" y="413.13" width="2.3" height="2.1" rx="0.5" fill="#7597d6"/>
<rect x="637.25" y="413.13" width="2.3" height="2.1" rx="0.5" fill="#7597d6"/>
<rect x="647.55" y="413.13" width="2.3" height="2.1" rx="0.5" fill="#7597d6"/>
<rect x="555.55" y="419.80" width="2.3" height="2.1" rx="0.5" fill="#7597d6"/>
<rect x="542.65" y="426.47" width="2.3" height="2.1" rx="0.5" fill="#7597d6"/>
<rect x="544.45" y="426.47" width="2.3" height="2.1" rx="0.5" fill="#7597d6"/>
<rect x="546.35" y="426.47" width="2.3" height="2.1" rx="0.5" fill="#7597d6"/>
<rect x="560.95" y="426.47" width="2.3" height="2.1" rx="0.5" fill="#7597d6"/>
<rect x="562.45" y="426.47" width="2.3" height="2.1" rx="0.5" fill="#7597d6"/>
<rect x="568.15" y="426.47" width="2.3" height="2.1" rx="0.5" fill="#7597d6"/>
<rect x="569.55" y="426.47" width="2.3" height="2.1" rx="0.5" fill="#7597d6"/>
<rect x="575.35" y="426.47" width="2.3" height="2.1" rx="0.5" fill="#7597d6"/>
<rect x="587.95" y="426.47" width="2.3" height="2.1" rx="0.5" fill="#7597d6"/>
<rect x="590.75" y="426.47" width="2.3" height="2.1" rx="0.5" fill="#7597d6"/>
<rect x="638.45" y="426.47" width="2.3" height="2.1" rx="0.5" fill="#7597d6"/>
<rect x="644.75" y="426.47" width="2.3" height="2.1" rx="0.5" fill="#7597d6"/>
<rect x="649.35" y="426.47" width="2.3" height="2.1" rx="0.5" fill="#7597d6"/>
<rect x="661.85" y="426.47" width="2.3" height="2.1" rx="0.5" fill="#7597d6"/>
<rect x="541.15" y="433.14" width="2.3" height="2.1" rx="0.5" fill="#7597d6"/>
<rect x="547.35" y="433.14" width="2.3" height="2.1" rx="0.5" fill="#7597d6"/>
<rect x="553.85" y="433.14" width="2.3" height="2.1" rx="0.5" fill="#7597d6"/>
<rect x="587.55" y="433.14" width="2.3" height="2.1" rx="0.5" fill="#7597d6"/>
<rect x="541.61" y="439.81" width="2.3" height="2.1" rx="0.5" fill="#7597d6"/>
<rect x="543.05" y="439.81" width="2.3" height="2.1" rx="0.5" fill="#7597d6"/>
<rect x="544.48" y="439.81" width="2.3" height="2.1" rx="0.5" fill="#7597d6"/>
<rect x="545.91" y="439.81" width="2.3" height="2.1" rx="0.5" fill="#7597d6"/>
<rect x="548.07" y="439.81" width="2.3" height="2.1" rx="0.5" fill="#7597d6"/>
<rect x="553.09" y="439.81" width="2.3" height="2.1" rx="0.5" fill="#7597d6"/>
<rect x="554.52" y="439.81" width="2.3" height="2.1" rx="0.5" fill="#7597d6"/>
<rect x="555.96" y="439.81" width="2.3" height="2.1" rx="0.5" fill="#7597d6"/>
<rect x="559.54" y="439.81" width="2.3" height="2.1" rx="0.5" fill="#7597d6"/>
<rect x="560.98" y="439.81" width="2.3" height="2.1" rx="0.5" fill="#7597d6"/>
<rect x="562.41" y="439.81" width="2.3" height="2.1" rx="0.5" fill="#7597d6"/>
<rect x="569.59" y="439.81" width="2.3" height="2.1" rx="0.5" fill="#7597d6"/>
<rect x="571.02" y="439.81" width="2.3" height="2.1" rx="0.5" fill="#7597d6"/>
<rect x="578.20" y="439.81" width="2.3" height="2.1" rx="0.5" fill="#7597d6"/>
<rect x="585.37" y="439.81" width="2.3" height="2.1" rx="0.5" fill="#7597d6"/>
<rect x="603.95" y="439.81" width="2.3" height="2.1" rx="0.5" fill="#7597d6"/>
<rect x="605.15" y="439.81" width="2.3" height="2.1" rx="0.5" fill="#7597d6"/>
<rect x="625.55" y="439.81" width="2.3" height="2.1" rx="0.5" fill="#7597d6"/>
<rect x="629.15" y="439.81" width="2.3" height="2.1" rx="0.5" fill="#7597d6"/>
<rect x="630.55" y="439.81" width="2.3" height="2.1" rx="0.5" fill="#7597d6"/>
<rect x="650.95" y="439.81" width="2.3" height="2.1" rx="0.5" fill="#7597d6"/>
<rect x="663.45" y="439.81" width="2.3" height="2.1" rx="0.5" fill="#7597d6"/>
<rect x="579.35" y="443.81" width="2.3" height="2.1" rx="0.5" fill="#7597d6"/>
<rect x="538.28" y="446.48" width="2.3" height="2.1" rx="0.5" fill="#7597d6"/>
<rect x="539.73" y="446.48" width="2.3" height="2.1" rx="0.5" fill="#7597d6"/>
<rect x="541.62" y="446.48" width="2.3" height="2.1" rx="0.5" fill="#7597d6"/>
<rect x="543.53" y="446.48" width="2.3" height="2.1" rx="0.5" fill="#7597d6"/>
<rect x="545.33" y="446.48" width="2.3" height="2.1" rx="0.5" fill="#7597d6"/>
<rect x="547.41" y="446.48" width="2.3" height="2.1" rx="0.5" fill="#7597d6"/>
<rect x="549.49" y="446.48" width="2.3" height="2.1" rx="0.5" fill="#7597d6"/>
<rect x="551.26" y="446.48" width="2.3" height="2.1" rx="0.5" fill="#7597d6"/>
<rect x="553.22" y="446.48" width="2.3" height="2.1" rx="0.5" fill="#7597d6"/>
<rect x="555.24" y="446.48" width="2.3" height="2.1" rx="0.5" fill="#7597d6"/>
<rect x="557.39" y="446.48" width="2.3" height="2.1" rx="0.5" fill="#7597d6"/>
<rect x="559.54" y="446.48" width="2.3" height="2.1" rx="0.5" fill="#7597d6"/>
<rect x="561.70" y="446.48" width="2.3" height="2.1" rx="0.5" fill="#7597d6"/>
<rect x="563.85" y="446.48" width="2.3" height="2.1" rx="0.5" fill="#7597d6"/>
<rect x="566.00" y="446.48" width="2.3" height="2.1" rx="0.5" fill="#7597d6"/>
<rect x="572.46" y="446.48" width="2.3" height="2.1" rx="0.5" fill="#7597d6"/>
<rect x="573.89" y="446.48" width="2.3" height="2.1" rx="0.5" fill="#7597d6"/>
<rect x="578.20" y="446.48" width="2.3" height="2.1" rx="0.5" fill="#7597d6"/>
<rect x="579.63" y="446.48" width="2.3" height="2.1" rx="0.5" fill="#7597d6"/>
<rect x="581.07" y="446.48" width="2.3" height="2.1" rx="0.5" fill="#7597d6"/>
<rect x="583.93" y="446.48" width="2.3" height="2.1" rx="0.5" fill="#7597d6"/>
<rect x="587.52" y="446.48" width="2.3" height="2.1" rx="0.5" fill="#7597d6"/>
<rect x="588.15" y="446.48" width="2.3" height="2.1" rx="0.5" fill="#7597d6"/>
<rect x="589.55" y="446.48" width="2.3" height="2.1" rx="0.5" fill="#7597d6"/>
<rect x="591.05" y="446.48" width="2.3" height="2.1" rx="0.5" fill="#7597d6"/>
<rect x="612.55" y="446.48" width="2.3" height="2.1" rx="0.5" fill="#7597d6"/>
<rect x="618.35" y="446.48" width="2.3" height="2.1" rx="0.5" fill="#7597d6"/>
<rect x="649.35" y="446.48" width="2.3" height="2.1" rx="0.5" fill="#7597d6"/>
<rect x="657.35" y="446.48" width="2.3" height="2.1" rx="0.5" fill="#7597d6"/>
<rect x="665.25" y="446.48" width="2.3" height="2.1" rx="0.5" fill="#7597d6"/>
<rect x="668.75" y="446.48" width="2.3" height="2.1" rx="0.5" fill="#7597d6"/>
<rect x="673.25" y="446.48" width="2.3" height="2.1" rx="0.5" fill="#7597d6"/>
<rect x="536.59" y="449.15" width="2.3" height="2.1" rx="0.5" fill="#7597d6"/>
<rect x="543.76" y="449.15" width="2.3" height="2.1" rx="0.5" fill="#7597d6"/>
<rect x="545.20" y="449.15" width="2.3" height="2.1" rx="0.5" fill="#7597d6"/>
<rect x="546.63" y="449.15" width="2.3" height="2.1" rx="0.5" fill="#7597d6"/>
<rect x="549.50" y="449.15" width="2.3" height="2.1" rx="0.5" fill="#7597d6"/>
<rect x="551.65" y="449.15" width="2.3" height="2.1" rx="0.5" fill="#7597d6"/>
<rect x="553.81" y="449.15" width="2.3" height="2.1" rx="0.5" fill="#7597d6"/>
<rect x="558.11" y="449.15" width="2.3" height="2.1" rx="0.5" fill="#7597d6"/>
<rect x="565.28" y="449.15" width="2.3" height="2.1" rx="0.5" fill="#7597d6"/>
<rect x="568.15" y="449.15" width="2.3" height="2.1" rx="0.5" fill="#7597d6"/>
<rect x="572.46" y="449.15" width="2.3" height="2.1" rx="0.5" fill="#7597d6"/>
<rect x="575.33" y="449.15" width="2.3" height="2.1" rx="0.5" fill="#7597d6"/>
<rect x="590.35" y="449.15" width="2.3" height="2.1" rx="0.5" fill="#7597d6"/>
<rect x="626.25" y="449.15" width="2.3" height="2.1" rx="0.5" fill="#7597d6"/>
<rect x="630.65" y="449.15" width="2.3" height="2.1" rx="0.5" fill="#7597d6"/>
<rect x="639.75" y="449.15" width="2.3" height="2.1" rx="0.5" fill="#7597d6"/>
<rect x="642.95" y="449.15" width="2.3" height="2.1" rx="0.5" fill="#7597d6"/>
<rect x="644.35" y="449.15" width="2.3" height="2.1" rx="0.5" fill="#7597d6"/>
<rect x="653.95" y="449.15" width="2.3" height="2.1" rx="0.5" fill="#7597d6"/>
<rect x="543.05" y="451.55" width="2.3" height="2.1" rx="0.5" fill="#7597d6"/>
<rect x="544.48" y="451.55" width="2.3" height="2.1" rx="0.5" fill="#7597d6"/>
<rect x="552.37" y="451.55" width="2.3" height="2.1" rx="0.5" fill="#7597d6"/>
<rect x="563.85" y="451.55" width="2.3" height="2.1" rx="0.5" fill="#7597d6"/>
<rect x="568.87" y="451.55" width="2.3" height="2.1" rx="0.5" fill="#7597d6"/>
<rect x="597.45" y="451.55" width="2.3" height="2.1" rx="0.5" fill="#7597d6"/>
<rect x="604.65" y="451.55" width="2.3" height="2.1" rx="0.5" fill="#7597d6"/>
<rect x="630.55" y="451.55" width="2.3" height="2.1" rx="0.5" fill="#7597d6"/>
<rect x="659.65" y="451.55" width="2.3" height="2.1" rx="0.5" fill="#7597d6"/>
<line x1="538.25" y1="444.10" x2="676.00" y2="427.00" stroke="#323a7a" stroke-width="0.65" stroke-dasharray="2.4,0.9"/>
<rect x="530.50" y="342.50" width="153.00" height="117.00" fill="none" stroke="#9a9a9a" stroke-width="0.9"/>
<line x1="528.70" y1="454.20" x2="530.50" y2="454.20" stroke="#555" stroke-width="0.5"/>
<text x="528.20" y="455.80" font-size="4.6" text-anchor="end" fill="#666">0.0</text>
<line x1="528.70" y1="427.52" x2="530.50" y2="427.52" stroke="#555" stroke-width="0.5"/>
<text x="528.20" y="429.12" font-size="4.6" text-anchor="end" fill="#666">0.2</text>
<line x1="528.70" y1="400.84" x2="530.50" y2="400.84" stroke="#555" stroke-width="0.5"/>
<text x="528.20" y="402.44" font-size="4.6" text-anchor="end" fill="#666">0.4</text>
<line x1="528.70" y1="374.16" x2="530.50" y2="374.16" stroke="#555" stroke-width="0.5"/>
<text x="528.20" y="375.76" font-size="4.6" text-anchor="end" fill="#666">0.6</text>
<line x1="528.70" y1="347.48" x2="530.50" y2="347.48" stroke="#555" stroke-width="0.5"/>
<text x="528.20" y="349.08" font-size="4.6" text-anchor="end" fill="#666">0.8</text>
<line x1="535.25" y1="459.50" x2="535.25" y2="461.30" stroke="#555" stroke-width="0.5"/>
<text x="535.25" y="465.00" font-size="4.6" text-anchor="middle" fill="#666">0.00</text>
<line x1="575.25" y1="459.50" x2="575.25" y2="461.30" stroke="#555" stroke-width="0.5"/>
<text x="575.25" y="465.00" font-size="4.6" text-anchor="middle" fill="#666">0.25</text>
<line x1="615.25" y1="459.50" x2="615.25" y2="461.30" stroke="#555" stroke-width="0.5"/>
<text x="615.25" y="465.00" font-size="4.6" text-anchor="middle" fill="#666">0.50</text>
<line x1="655.25" y1="459.50" x2="655.25" y2="461.30" stroke="#555" stroke-width="0.5"/>
<text x="655.25" y="465.00" font-size="4.6" text-anchor="middle" fill="#666">0.75</text>
<text x="607.00" y="338.80" font-size="6.3" text-anchor="middle" fill="#000" font-weight="bold">Validation III</text>
<text x="607.00" y="470.60" font-size="5.4" text-anchor="middle" fill="#111">Probability</text>
<text x="520.10" y="400.20" font-size="5.4" text-anchor="middle" fill="#111" transform="rotate(-90 520.1 400.2)">Ki-67 Index</text>
<text x="544.50" y="352.20" font-size="5.9" text-anchor="start" fill="#111" font-style="italic">rho = 0.164</text>
<text x="544.50" y="360.50" font-size="5.9" text-anchor="start" fill="#111" font-style="italic">p = 0.049</text>
<text x="0" y="0" font-size="16" font-weight="bold" fill="#000" transform="translate(370.8 13.1) scale(0.86 1)">C</text>
<text x="469.30" y="13.00" font-size="12" text-anchor="start" fill="#111" font-weight="bold">Risk Group</text>
<line x1="540.00" y1="9.00" x2="552.60" y2="9.00" stroke="#d8453c" stroke-width="1.35"/>
<line x1="546.30" y1="7.00" x2="546.30" y2="11.00" stroke="#d8453c" stroke-width="1.0"/>
<text x="558.60" y="12.70" font-size="10.1" text-anchor="start" fill="#222">High</text>
<line x1="586.20" y1="9.00" x2="598.20" y2="9.00" stroke="#4a77b8" stroke-width="1.35"/>
<line x1="592.20" y1="7.00" x2="592.20" y2="11.00" stroke="#4a77b8" stroke-width="1.0"/>
<text x="604.80" y="12.70" font-size="10.1" text-anchor="start" fill="#222">Low</text>
<line x1="423.50" y1="181.12" x2="668.50" y2="181.12" stroke="#f4f4f4" stroke-width="0.5"/>
<line x1="423.50" y1="140.17" x2="668.50" y2="140.17" stroke="#f4f4f4" stroke-width="0.5"/>
<line x1="423.50" y1="99.22" x2="668.50" y2="99.22" stroke="#f4f4f4" stroke-width="0.5"/>
<line x1="423.50" y1="58.27" x2="668.50" y2="58.27" stroke="#f4f4f4" stroke-width="0.5"/>
<line x1="423.50" y1="201.60" x2="668.50" y2="201.60" stroke="#ebebeb" stroke-width="0.6"/>
<line x1="423.50" y1="160.65" x2="668.50" y2="160.65" stroke="#ebebeb" stroke-width="0.6"/>
<line x1="423.50" y1="119.70" x2="668.50" y2="119.70" stroke="#ebebeb" stroke-width="0.6"/>
<line x1="423.50" y1="78.75" x2="668.50" y2="78.75" stroke="#ebebeb" stroke-width="0.6"/>
<line x1="423.50" y1="37.80" x2="668.50" y2="37.80" stroke="#ebebeb" stroke-width="0.6"/>
<line x1="434.70" y1="30.50" x2="434.70" y2="209.50" stroke="#ebebeb" stroke-width="0.6"/>
<line x1="456.99" y1="30.50" x2="456.99" y2="209.50" stroke="#fafafa" stroke-width="0.5"/>
<line x1="479.28" y1="30.50" x2="479.28" y2="209.50" stroke="#ebebeb" stroke-width="0.6"/>
<line x1="501.57" y1="30.50" x2="501.57" y2="209.50" stroke="#fafafa" stroke-width="0.5"/>
<line x1="523.86" y1="30.50" x2="523.86" y2="209.50" stroke="#ebebeb" stroke-width="0.6"/>
<line x1="546.15" y1="30.50" x2="546.15" y2="209.50" stroke="#fafafa" stroke-width="0.5"/>
<line x1="568.44" y1="30.50" x2="568.44" y2="209.50" stroke="#ebebeb" stroke-width="0.6"/>
<line x1="590.73" y1="30.50" x2="590.73" y2="209.50" stroke="#fafafa" stroke-width="0.5"/>
<line x1="613.02" y1="30.50" x2="613.02" y2="209.50" stroke="#ebebeb" stroke-width="0.6"/>
<line x1="635.31" y1="30.50" x2="635.31" y2="209.50" stroke="#fafafa" stroke-width="0.5"/>
<line x1="657.60" y1="30.50" x2="657.60" y2="209.50" stroke="#ebebeb" stroke-width="0.6"/>
<path d="M434.70,37.80 H438.93 V42.76 H441.54 V47.73 H465.03 V52.69 H468.39 V57.65 H516.49 V62.62 H538.87 V67.58 H542.60 V72.54 H595.17 V78.65 H668.50" fill="none" stroke="#d8453c" stroke-width="1.25"/>
<line x1="572.43" y1="69.84" x2="572.43" y2="75.24" stroke="#d8453c" stroke-width="1.1"/>
<line x1="583.99" y1="69.84" x2="583.99" y2="75.24" stroke="#d8453c" stroke-width="1.1"/>
<line x1="586.97" y1="69.84" x2="586.97" y2="75.24" stroke="#d8453c" stroke-width="1.1"/>
<line x1="590.70" y1="69.84" x2="590.70" y2="75.24" stroke="#d8453c" stroke-width="1.1"/>
<line x1="598.53" y1="75.95" x2="598.53" y2="81.35" stroke="#d8453c" stroke-width="1.1"/>
<line x1="601.89" y1="75.95" x2="601.89" y2="81.35" stroke="#d8453c" stroke-width="1.1"/>
<line x1="610.09" y1="75.95" x2="610.09" y2="81.35" stroke="#d8453c" stroke-width="1.1"/>
<line x1="617.18" y1="75.95" x2="617.18" y2="81.35" stroke="#d8453c" stroke-width="1.1"/>
<line x1="620.90" y1="75.95" x2="620.90" y2="81.35" stroke="#d8453c" stroke-width="1.1"/>
<line x1="624.26" y1="75.95" x2="624.26" y2="81.35" stroke="#d8453c" stroke-width="1.1"/>
<line x1="632.46" y1="75.95" x2="632.46" y2="81.35" stroke="#d8453c" stroke-width="1.1"/>
<path d="M434.70,37.80 H444.90 V38.50 H447.13 V39.10 H465.40 V39.90 H469.13 V40.95 H508.29 V41.45 H546.32 V41.45 H546.70 V41.45 H546.10 V42.40 H554.30 V43.20 H565.50 V43.70 H578.30 V44.60 H592.50 V45.00 H603.50 V45.40 H604.60 V46.00 H631.20 V48.20 H668.50" fill="none" stroke="#4a77b8" stroke-width="1.25"/>
<line x1="534.90" y1="38.75" x2="534.90" y2="44.15" stroke="#4a77b8" stroke-width="1.1"/>
<line x1="556.86" y1="40.50" x2="556.86" y2="45.90" stroke="#4a77b8" stroke-width="1.1"/>
<line x1="560.44" y1="40.50" x2="560.44" y2="45.90" stroke="#4a77b8" stroke-width="1.1"/>
<line x1="561.46" y1="40.50" x2="561.46" y2="45.90" stroke="#4a77b8" stroke-width="1.1"/>
<line x1="564.52" y1="40.50" x2="564.52" y2="45.90" stroke="#4a77b8" stroke-width="1.1"/>
<line x1="568.10" y1="41.00" x2="568.10" y2="46.40" stroke="#4a77b8" stroke-width="1.1"/>
<line x1="571.68" y1="41.00" x2="571.68" y2="46.40" stroke="#4a77b8" stroke-width="1.1"/>
<line x1="575.25" y1="41.00" x2="575.25" y2="46.40" stroke="#4a77b8" stroke-width="1.1"/>
<line x1="576.28" y1="41.00" x2="576.28" y2="46.40" stroke="#4a77b8" stroke-width="1.1"/>
<line x1="579.34" y1="41.90" x2="579.34" y2="47.30" stroke="#4a77b8" stroke-width="1.1"/>
<line x1="582.92" y1="41.90" x2="582.92" y2="47.30" stroke="#4a77b8" stroke-width="1.1"/>
<line x1="586.49" y1="41.90" x2="586.49" y2="47.30" stroke="#4a77b8" stroke-width="1.1"/>
<line x1="590.07" y1="41.90" x2="590.07" y2="47.30" stroke="#4a77b8" stroke-width="1.1"/>
<line x1="594.16" y1="42.30" x2="594.16" y2="47.70" stroke="#4a77b8" stroke-width="1.1"/>
<line x1="597.74" y1="42.30" x2="597.74" y2="47.70" stroke="#4a77b8" stroke-width="1.1"/>
<line x1="601.31" y1="42.30" x2="601.31" y2="47.70" stroke="#4a77b8" stroke-width="1.1"/>
<line x1="602.33" y1="42.30" x2="602.33" y2="47.70" stroke="#4a77b8" stroke-width="1.1"/>
<line x1="605.40" y1="43.30" x2="605.40" y2="48.70" stroke="#4a77b8" stroke-width="1.1"/>
<line x1="602.04" y1="42.30" x2="602.04" y2="47.70" stroke="#4a77b8" stroke-width="1.1"/>
<line x1="605.62" y1="43.30" x2="605.62" y2="48.70" stroke="#4a77b8" stroke-width="1.1"/>
<line x1="609.20" y1="43.30" x2="609.20" y2="48.70" stroke="#4a77b8" stroke-width="1.1"/>
<line x1="612.77" y1="43.30" x2="612.77" y2="48.70" stroke="#4a77b8" stroke-width="1.1"/>
<line x1="616.35" y1="43.30" x2="616.35" y2="48.70" stroke="#4a77b8" stroke-width="1.1"/>
<line x1="620.44" y1="43.30" x2="620.44" y2="48.70" stroke="#4a77b8" stroke-width="1.1"/>
<line x1="624.01" y1="43.30" x2="624.01" y2="48.70" stroke="#4a77b8" stroke-width="1.1"/>
<line x1="627.59" y1="43.30" x2="627.59" y2="48.70" stroke="#4a77b8" stroke-width="1.1"/>
<line x1="631.68" y1="45.50" x2="631.68" y2="50.90" stroke="#4a77b8" stroke-width="1.1"/>
<line x1="635.25" y1="45.50" x2="635.25" y2="50.90" stroke="#4a77b8" stroke-width="1.1"/>
<line x1="638.83" y1="45.50" x2="638.83" y2="50.90" stroke="#4a77b8" stroke-width="1.1"/>
<line x1="642.41" y1="45.50" x2="642.41" y2="50.90" stroke="#4a77b8" stroke-width="1.1"/>
<line x1="646.49" y1="45.50" x2="646.49" y2="50.90" stroke="#4a77b8" stroke-width="1.1"/>
<line x1="650.07" y1="45.50" x2="650.07" y2="50.90" stroke="#4a77b8" stroke-width="1.1"/>
<line x1="653.65" y1="45.50" x2="653.65" y2="50.90" stroke="#4a77b8" stroke-width="1.1"/>
<line x1="657.22" y1="45.50" x2="657.22" y2="50.90" stroke="#4a77b8" stroke-width="1.1"/>
<line x1="661.31" y1="45.50" x2="661.31" y2="50.90" stroke="#4a77b8" stroke-width="1.1"/>
<line x1="665.40" y1="45.50" x2="665.40" y2="50.90" stroke="#4a77b8" stroke-width="1.1"/>
<rect x="423.50" y="30.50" width="245.00" height="179.00" fill="none" stroke="#7c7c7c" stroke-width="1"/>
<line x1="420.80" y1="201.60" x2="423.50" y2="201.60" stroke="#333" stroke-width="1.0"/>
<text x="419.40" y="205.30" font-size="10.3" text-anchor="end" fill="#4d4d4d">0.00</text>
<line x1="420.80" y1="160.65" x2="423.50" y2="160.65" stroke="#333" stroke-width="1.0"/>
<text x="419.40" y="164.35" font-size="10.3" text-anchor="end" fill="#4d4d4d">0.25</text>
<line x1="420.80" y1="119.70" x2="423.50" y2="119.70" stroke="#333" stroke-width="1.0"/>
<text x="419.40" y="123.40" font-size="10.3" text-anchor="end" fill="#4d4d4d">0.50</text>
<line x1="420.80" y1="78.75" x2="423.50" y2="78.75" stroke="#333" stroke-width="1.0"/>
<text x="419.40" y="82.45" font-size="10.3" text-anchor="end" fill="#4d4d4d">0.75</text>
<line x1="420.80" y1="37.80" x2="423.50" y2="37.80" stroke="#333" stroke-width="1.0"/>
<text x="419.40" y="41.50" font-size="10.3" text-anchor="end" fill="#4d4d4d">1.00</text>
<line x1="434.70" y1="209.50" x2="434.70" y2="212.10" stroke="#333" stroke-width="1.0"/>
<text x="434.70" y="222.00" font-size="10.3" text-anchor="middle" fill="#4d4d4d">0</text>
<line x1="479.28" y1="209.50" x2="479.28" y2="212.10" stroke="#333" stroke-width="1.0"/>
<text x="479.28" y="222.00" font-size="10.3" text-anchor="middle" fill="#4d4d4d">12</text>
<line x1="523.86" y1="209.50" x2="523.86" y2="212.10" stroke="#333" stroke-width="1.0"/>
<text x="523.86" y="222.00" font-size="10.3" text-anchor="middle" fill="#4d4d4d">24</text>
<line x1="568.44" y1="209.50" x2="568.44" y2="212.10" stroke="#333" stroke-width="1.0"/>
<text x="568.44" y="222.00" font-size="10.3" text-anchor="middle" fill="#4d4d4d">36</text>
<line x1="613.02" y1="209.50" x2="613.02" y2="212.10" stroke="#333" stroke-width="1.0"/>
<text x="613.02" y="222.00" font-size="10.3" text-anchor="middle" fill="#4d4d4d">48</text>
<line x1="657.60" y1="209.50" x2="657.60" y2="212.10" stroke="#333" stroke-width="1.0"/>
<text x="657.60" y="222.00" font-size="10.3" text-anchor="middle" fill="#4d4d4d">60</text>
<text x="546.50" y="234.60" font-size="10.3" text-anchor="middle" fill="#111" font-weight="bold">Time (months)</text>
<text x="395.00" y="120.10" font-size="10.45" text-anchor="middle" fill="#111" font-weight="bold" transform="rotate(-90 395.0 120.1)">Progression-Free Survival Probability</text>
<text x="439.60" y="157.20" font-size="12.35" text-anchor="start" fill="#1a1a1a">Log-rank</text>
<text x="439.60" y="173.30" font-size="12.2" text-anchor="start" fill="#1a1a1a">p &lt; 0.0001</text>
<text x="419.20" y="253.80" font-size="11.35" text-anchor="start" fill="#111">Number at risk</text>
<line x1="430.50" y1="261.00" x2="430.50" y2="296.50" stroke="#f0f0f0" stroke-width="0.6"/>
<line x1="453.17" y1="261.00" x2="453.17" y2="296.50" stroke="#f0f0f0" stroke-width="0.6"/>
<line x1="475.85" y1="261.00" x2="475.85" y2="296.50" stroke="#f0f0f0" stroke-width="0.6"/>
<line x1="498.52" y1="261.00" x2="498.52" y2="296.50" stroke="#f0f0f0" stroke-width="0.6"/>
<line x1="521.20" y1="261.00" x2="521.20" y2="296.50" stroke="#f0f0f0" stroke-width="0.6"/>
<line x1="543.87" y1="261.00" x2="543.87" y2="296.50" stroke="#f0f0f0" stroke-width="0.6"/>
<line x1="566.54" y1="261.00" x2="566.54" y2="296.50" stroke="#f0f0f0" stroke-width="0.6"/>
<line x1="589.22" y1="261.00" x2="589.22" y2="296.50" stroke="#f0f0f0" stroke-width="0.6"/>
<line x1="611.89" y1="261.00" x2="611.89" y2="296.50" stroke="#f0f0f0" stroke-width="0.6"/>
<line x1="634.57" y1="261.00" x2="634.57" y2="296.50" stroke="#f0f0f0" stroke-width="0.6"/>
<line x1="657.24" y1="261.00" x2="657.24" y2="296.50" stroke="#f0f0f0" stroke-width="0.6"/>
<line x1="418.00" y1="270.50" x2="669.00" y2="270.50" stroke="#eeeeee" stroke-width="0.6"/>
<line x1="418.00" y1="286.60" x2="669.00" y2="286.60" stroke="#eeeeee" stroke-width="0.6"/>
<text x="430.50" y="274.60" font-size="10.5" text-anchor="middle" fill="#111">33</text>
<text x="430.50" y="290.60" font-size="10.5" text-anchor="middle" fill="#111">213</text>
<text x="430.50" y="306.50" font-size="7.0" text-anchor="middle" fill="#555">0</text>
<text x="475.85" y="274.60" font-size="10.5" text-anchor="middle" fill="#111">29</text>
<text x="475.85" y="290.60" font-size="10.5" text-anchor="middle" fill="#111">209</text>
<text x="475.85" y="306.50" font-size="7.0" text-anchor="middle" fill="#555">12</text>
<text x="521.20" y="274.60" font-size="10.5" text-anchor="middle" fill="#111">28</text>
<text x="521.20" y="290.60" font-size="10.5" text-anchor="middle" fill="#111">208</text>
<text x="521.20" y="306.50" font-size="7.0" text-anchor="middle" fill="#555">24</text>
<text x="566.54" y="274.60" font-size="10.5" text-anchor="middle" fill="#111">26</text>
<text x="566.54" y="290.60" font-size="10.5" text-anchor="middle" fill="#111">201</text>
<text x="566.54" y="306.50" font-size="7.0" text-anchor="middle" fill="#555">36</text>
<text x="611.89" y="274.60" font-size="10.5" text-anchor="middle" fill="#111">15</text>
<text x="611.89" y="290.60" font-size="10.5" text-anchor="middle" fill="#111">127</text>
<text x="611.89" y="306.50" font-size="7.0" text-anchor="middle" fill="#555">48</text>
<text x="657.24" y="274.60" font-size="10.5" text-anchor="middle" fill="#111">7</text>
<text x="657.24" y="290.60" font-size="10.5" text-anchor="middle" fill="#111">68</text>
<text x="657.24" y="306.50" font-size="7.0" text-anchor="middle" fill="#555">60</text>
<text x="414.60" y="273.40" font-size="7.5" text-anchor="end" fill="#d04a45">High</text>
<text x="414.60" y="288.80" font-size="7.5" text-anchor="end" fill="#4a78b8">Low</text>
<text x="393.80" y="278.50" font-size="9.35" text-anchor="middle" fill="#222" transform="rotate(-90 393.8 278.5)">Risk Group</text>
<text x="544.00" y="317.60" font-size="9.6" text-anchor="middle" fill="#111">Time (months)</text>
</svg></body></html>
